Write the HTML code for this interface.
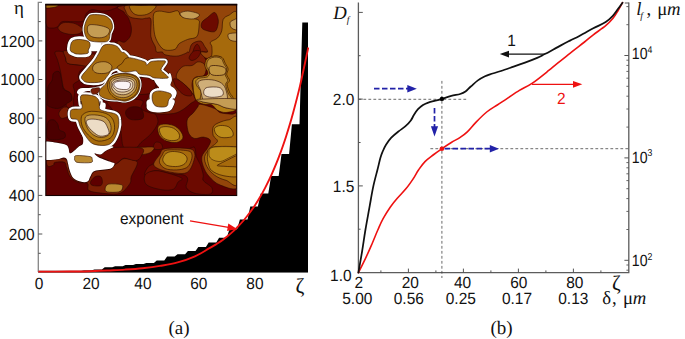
<!DOCTYPE html>
<html><head><meta charset="utf-8"><title>figure</title>
<style>html,body{margin:0;padding:0;background:#fff}svg{display:block}text{text-rendering:geometricPrecision}</style></head>
<body><svg width="685" height="339" viewBox="0 0 685 339">
<rect width="685" height="339" fill="#fff"/>
<path d="M38.5,272.3 L38.5,272.3 L38.5,272.0 L39.5,272.0 L42.3,271.9 L49.9,271.9 L52.7,271.7 L60.3,271.7 L63.1,271.4 L70.7,271.4 L73.5,271.0 L81.1,271.0 L83.9,270.5 L91.5,270.5 L94.3,269.6 L101.9,269.6 L104.7,267.3 L112.3,267.3 L115.1,266.2 L122.7,266.2 L125.5,265.0 L133.1,265.0 L135.9,264.1 L143.5,264.1 L146.3,262.9 L153.9,262.9 L156.7,260.6 L164.3,260.6 L167.1,256.6 L174.7,256.6 L177.5,254.2 L185.1,254.2 L187.9,251.0 L195.5,251.0 L198.3,247.0 L205.9,247.0 L208.7,242.4 L216.3,242.4 L219.1,237.8 L226.7,237.8 L229.5,229.3 L237.1,229.3 L239.9,219.6 L247.5,219.6 L250.3,206.5 L257.9,206.5 L260.7,193.5 L268.3,193.5 L271.1,176.1 L278.7,176.1 L281.5,154.0 L289.1,154.0 L291.9,124.3 L299.5,124.3 L302.3,22.6 L308.0,22.6 L308.0,272.3 Z" fill="#000"/>
<rect x="38" y="270.8" width="270" height="1.6" fill="#000"/>
<clipPath id="ic"><rect x="45.8" y="4.5" width="190.89999999999998" height="191.0"/></clipPath>
<g clip-path="url(#ic)" stroke-linejoin="round">
<rect x="45.8" y="4.5" width="190.89999999999998" height="191.0" fill="#5e0000"/>
<path d="M126.4,5.4 C107.6,6.6 123.9,10.4 124.3,12.5 C124.6,14.6 127.4,15.6 128.5,18.2 C129.7,20.8 131.1,25.0 131.4,28.1 C131.6,31.1 131.1,34.2 130.0,36.6 C128.8,38.9 126.2,41.5 124.3,42.2 C122.4,42.9 120.0,40.1 118.6,40.8 C117.2,41.5 115.3,44.6 115.8,46.5 C116.3,48.3 120.0,50.1 121.5,52.0 C122.9,53.9 124.3,55.3 124.3,57.7 C124.3,60.0 121.5,64.0 121.5,66.2 C121.5,68.3 121.9,69.9 124.3,70.4 C126.7,70.9 132.8,68.3 135.6,69.0 C138.4,69.7 139.2,73.4 141.0,74.7 C142.8,76.0 144.3,75.6 146.7,76.8 C149.0,78.0 153.5,79.7 155.2,81.7 C156.8,83.7 157.3,86.7 156.6,88.8 C155.9,90.9 152.6,92.6 150.9,94.5 C149.3,96.3 147.4,97.7 146.7,100.0 C146.0,102.3 145.2,106.3 146.7,108.5 C148.1,110.7 150.7,112.6 155.2,113.5 C159.6,114.3 168.8,114.2 173.6,113.5 C178.3,112.7 180.6,110.9 183.5,109.2 C186.3,107.6 188.6,105.1 190.6,103.5 C192.6,102.0 195.0,101.5 195.5,100.0 C196.0,98.5 193.8,97.8 193.7,94.5 C193.6,91.2 193.4,83.4 194.8,80.3 C196.2,77.3 199.8,78.2 201.9,76.1 C204.0,73.9 206.8,70.2 207.5,67.6 C208.3,65.0 207.1,63.1 206.1,60.5 C205.2,57.9 201.6,53.4 201.9,52.0 C202.1,50.6 201.7,52.0 207.5,52.0 C213.4,52.0 232.1,59.8 237.0,52.0 C241.9,44.2 255.4,13.2 237.0,5.4 C218.6,-2.3 145.2,4.2 126.4,5.4 Z" fill="#7a1e04" stroke="#2a0800" stroke-width="0.6"/>
<path d="M46.4,5.4 C57.5,2.1 102.1,4.7 113.0,5.4 C123.8,6.1 113.4,8.7 111.5,9.7 C109.7,10.6 104.9,11.1 101.6,11.1 C98.3,11.1 94.3,9.2 91.7,9.7 C89.1,10.1 87.5,12.0 86.1,13.9 C84.6,15.8 85.4,19.7 83.2,21.0 C81.1,22.3 76.9,21.6 73.3,21.7 C69.8,21.8 64.6,20.9 62.0,21.7 C59.4,22.5 59.4,25.6 57.7,26.7 C56.1,27.7 54.0,28.3 52.1,28.1 C50.2,27.8 47.4,29.0 46.4,25.2 C45.5,21.5 35.3,8.7 46.4,5.4 Z" fill="#6c0a00" stroke="#2a0800" stroke-width="0.6"/>
<path d="M58.5,26.7 C59.3,25.6 60.9,23.3 63.4,22.7 C65.9,22.1 70.5,22.5 73.3,23.1 C76.2,23.8 78.9,25.5 80.4,26.7 C81.9,27.8 82.8,29.0 82.5,30.2 C82.3,31.4 81.0,33.0 79.0,33.7 C77.0,34.4 73.3,34.7 70.5,34.4 C67.7,34.2 64.0,33.2 62.0,32.3 C60.0,31.4 59.0,30.1 58.5,29.2 C57.9,28.3 57.6,27.7 58.5,26.7 Z" fill="#7a1e04" stroke="#2a0800" stroke-width="0.6"/>
<path d="M44.3,4.0 C46.5,3.4 55.7,3.5 57.7,4.0 C59.7,4.5 57.7,6.2 56.3,6.8 C54.9,7.5 51.3,7.8 49.2,8.0 C47.2,8.1 45.1,8.2 44.3,7.5 C43.5,6.9 42.1,4.6 44.3,4.0 Z" fill="#a66a0c" stroke="#2a0800" stroke-width="0.6"/>
<path d="M47.8,100.0 C47.8,97.0 47.1,90.7 47.8,87.4 C48.5,84.1 51.1,82.7 52.1,80.3 C53.0,78.0 52.3,74.7 53.5,73.2 C54.7,71.8 57.7,70.6 59.2,71.8 C60.6,73.0 61.3,77.5 62.0,80.3 C62.7,83.2 62.0,86.7 63.4,88.8 C64.8,90.9 69.1,91.2 70.5,93.1 C71.9,94.9 72.6,98.1 71.9,100.0 C71.2,101.9 68.6,102.8 66.2,104.2 C63.9,105.7 60.8,108.3 57.7,108.5 C54.7,108.7 49.5,107.1 47.8,105.7 C46.2,104.2 47.8,103.0 47.8,100.0 Z" fill="#4c0000" stroke="#2a0800" stroke-width="0.6"/>
<path d="M63.4,52.0 C65.2,52.9 64.8,55.8 65.5,57.7 C66.2,59.6 65.4,62.1 67.7,63.3 C69.9,64.6 75.9,64.6 79.0,65.0 C82.1,65.5 85.8,65.3 86.1,66.2 C86.3,67.1 81.7,68.8 80.4,70.4 C79.1,72.1 78.5,74.4 78.3,76.1 C78.0,77.7 79.8,78.9 79.0,80.3 C78.2,81.7 74.0,82.6 73.3,84.6 C72.6,86.6 74.7,89.8 74.7,92.4 C74.7,94.9 73.6,97.8 73.3,100.0 C73.1,102.2 74.0,104.2 73.3,105.7 C72.6,107.1 70.3,108.7 69.1,108.5 C67.9,108.3 65.8,105.7 66.2,104.2 C66.7,102.8 71.2,101.9 71.9,100.0 C72.6,98.1 71.8,94.9 70.5,93.1 C69.2,91.2 65.5,90.9 64.1,88.8 C62.7,86.7 62.6,83.2 62.0,80.3 C61.4,77.5 61.3,75.1 60.6,71.8 C59.9,68.5 58.7,63.8 57.7,60.5 C56.8,57.2 54.0,53.4 54.9,52.0 C55.9,50.6 61.6,51.1 63.4,52.0 Z" fill="#6c0a00" stroke="#2a0800" stroke-width="0.6"/>
<path d="M63.4,51.3 C62.9,52.4 64.8,55.7 65.5,57.7 C66.2,59.7 65.4,62.1 67.7,63.3 C69.9,64.6 75.7,64.6 79.0,65.0 C82.3,65.5 85.2,66.4 87.5,66.2 C89.7,65.9 91.2,64.7 92.4,63.3 C93.7,61.9 94.7,59.2 94.8,57.7 C95.0,56.1 97.0,54.6 93.4,54.1 C89.8,53.7 77.4,55.3 73.3,54.8 C69.2,54.4 70.4,51.9 68.8,51.3 C67.1,50.7 63.9,50.2 63.4,51.3 Z" fill="#7a1e04" stroke="#2a0800" stroke-width="0.6"/>
<path d="M59.2,112.0 C59.9,110.7 61.8,108.0 63.4,107.4 C65.1,106.8 68.2,107.1 69.1,108.5 C70.0,109.9 70.0,113.9 68.8,115.6 C67.6,117.2 63.6,118.4 62.0,118.4 C60.4,118.4 59.6,116.6 59.2,115.6 C58.7,114.5 58.5,113.4 59.2,112.0 Z" fill="#7a1e04" stroke="#2a0800" stroke-width="0.6"/>
<path d="M47.8,122.7 C48.8,119.5 51.8,119.6 53.5,119.8 C55.1,120.1 56.8,122.4 57.7,124.1 C58.7,125.7 58.0,128.3 59.2,129.7 C60.3,131.2 64.1,131.4 64.8,132.8 C65.5,134.3 66.2,137.6 63.4,138.5 C60.6,139.5 50.4,141.2 47.8,138.5 C45.2,135.9 46.9,125.8 47.8,122.7 Z" fill="#4c0000" stroke="#2a0800" stroke-width="0.6"/>
<path d="M108.7,100.0 C113.6,98.6 135.6,98.6 141.0,100.0 C146.4,101.4 139.6,106.4 141.0,108.5 C142.4,110.6 147.1,111.8 149.5,112.7 C151.9,113.7 153.7,112.7 155.2,114.2 C156.6,115.6 158.0,118.9 158.0,121.2 C158.0,123.6 156.6,126.0 155.2,128.3 C153.7,130.7 151.9,133.0 149.5,135.4 C147.1,137.8 143.3,140.4 141.0,142.5 C138.7,144.6 138.4,147.1 135.6,148.0 C132.8,148.9 126.7,149.9 124.3,148.0 C121.9,146.1 122.2,141.0 121.5,136.8 C120.8,132.6 121.0,126.5 120.0,122.7 C119.1,118.8 117.2,115.8 115.8,113.5 C114.4,111.1 112.7,110.7 111.5,108.5 C110.4,106.3 103.8,101.4 108.7,100.0 Z" fill="#6c0a00" stroke="#2a0800" stroke-width="0.6"/>
<path d="M125.7,111.6 C126.2,110.0 127.8,108.1 130.0,107.4 C132.1,106.6 136.3,106.4 138.5,107.1 C140.6,107.7 142.0,109.4 142.7,111.3 C143.4,113.2 144.4,117.0 142.7,118.4 C141.0,119.8 135.4,120.1 132.8,119.8 C130.2,119.6 128.3,118.4 127.1,117.0 C125.9,115.6 125.2,113.2 125.7,111.6 Z" fill="#4c0000" stroke="#2a0800" stroke-width="0.6"/>
<path d="M151.6,5.4 C170.1,5.4 222.8,-2.9 237.0,5.4 C251.2,13.8 238.8,47.0 237.0,55.5 C235.2,64.1 229.4,56.5 226.0,56.5 C222.5,56.5 219.1,55.2 216.0,55.5 C213.0,55.8 209.7,58.3 207.5,58.4 C205.4,58.5 204.5,57.3 203.3,56.2 C202.1,55.2 199.8,52.7 200.5,52.0 C201.2,51.3 206.8,52.9 207.5,52.0 C208.3,51.1 205.9,48.3 204.7,46.5 C203.5,44.7 202.6,41.5 200.5,41.1 C198.3,40.7 193.9,42.1 192.0,43.9 C190.1,45.7 189.8,50.7 189.1,52.0 C188.4,53.3 188.4,51.7 187.7,52.0 C187.0,52.3 186.8,53.0 184.9,53.7 C183.0,54.4 179.7,56.1 176.4,56.2 C173.1,56.4 167.4,55.5 165.1,54.8 C162.7,54.1 163.7,52.5 162.2,52.0 C160.8,51.5 157.8,52.9 156.6,52.0 C155.4,51.1 156.1,49.1 155.2,46.5 C154.2,43.9 151.6,41.1 150.9,36.6 C150.2,32.1 151.6,22.6 150.9,19.6 C150.2,16.5 148.3,18.3 146.7,18.2 C145.0,18.0 143.8,19.1 141.0,18.9 C138.2,18.7 132.5,18.3 130.0,17.0 C127.4,15.7 126.3,13.0 125.7,11.1 C125.1,9.1 122.1,6.4 126.4,5.4 C130.7,4.5 133.2,5.4 151.6,5.4 Z" fill="#93450a" stroke="#2a0800" stroke-width="0.6"/>
<path d="M130.0,5.4 C131.6,4.5 136.8,5.4 141.0,5.4 C145.2,5.4 153.0,4.7 155.2,5.4 C157.3,6.1 154.9,8.2 153.7,9.7 C152.6,11.1 150.2,13.0 148.1,13.9 C146.0,14.9 143.1,15.2 141.0,15.3 C138.9,15.4 137.2,15.3 135.6,14.6 C134.0,13.9 132.3,12.6 131.4,11.1 C130.4,9.5 128.4,6.4 130.0,5.4 Z" fill="#a66a0c" stroke="#2a0800" stroke-width="0.6"/>
<path d="M153.7,13.9 C154.7,11.3 156.8,11.3 159.4,11.1 C162.0,10.8 166.3,12.5 169.3,12.5 C172.4,12.4 175.7,10.1 177.8,10.8 C179.9,11.5 178.8,15.3 182.1,16.7 C185.4,18.2 194.8,18.2 197.6,19.6 C200.5,21.0 199.2,22.4 199.1,25.2 C198.9,28.1 198.8,34.2 196.9,36.6 C195.0,38.9 190.7,38.2 187.7,39.4 C184.8,40.6 181.4,42.0 179.2,43.6 C177.1,45.3 177.3,48.2 175.0,49.3 C172.6,50.4 167.7,50.7 165.1,50.0 C162.5,49.3 161.1,47.3 159.4,45.1 C157.8,42.8 156.1,39.6 155.2,36.6 C154.2,33.5 154.0,30.4 153.7,26.7 C153.5,22.9 152.8,16.5 153.7,13.9 Z" fill="#a66a0c" stroke="#2a0800" stroke-width="0.6"/>
<path d="M180.6,12.8 C181.8,12.0 184.9,11.0 187.7,11.1 C190.6,11.2 195.7,12.5 197.6,13.3 C199.5,14.2 199.8,15.1 199.1,16.0 C198.3,17.0 195.7,18.5 193.4,18.9 C191.0,19.2 187.0,18.7 184.9,18.2 C182.8,17.6 181.6,16.5 180.9,15.6 C180.2,14.7 179.5,13.5 180.6,12.8 Z" fill="#c49c54" stroke="#2a0800" stroke-width="0.6"/>
<path d="M201.9,22.4 C202.8,20.6 205.4,19.1 207.5,17.5 C209.7,15.8 212.9,12.1 214.6,12.5 C216.4,12.8 217.7,17.2 218.2,19.6 C218.6,21.9 218.1,24.6 217.5,26.7 C216.9,28.7 216.3,30.9 214.6,31.6 C213.0,32.3 209.7,31.5 207.5,30.9 C205.4,30.3 202.8,29.5 201.9,28.1 C200.9,26.7 200.9,24.2 201.9,22.4 Z" fill="#6c0a00" stroke="#2a0800" stroke-width="0.6"/>
<path d="M193.4,52.8 C192.4,51.8 194.1,47.9 194.8,46.5 C195.5,45.1 196.8,44.1 197.6,44.4 C198.5,44.6 199.3,46.5 199.8,47.9 C200.2,49.3 201.5,52.0 200.5,52.8 C199.4,53.7 194.3,53.9 193.4,52.8 Z" fill="#6c0a00" stroke="#2a0800" stroke-width="0.6"/>
<path d="M223.1,19.6 C224.3,17.0 226.5,16.3 228.8,15.3 C231.1,14.4 235.6,7.8 237.0,13.9 C238.4,20.0 237.0,37.7 237.0,52.0 C237.0,66.3 237.0,92.0 237.0,100.0 C237.0,108.0 237.0,98.6 237.0,100.0 C237.0,101.4 237.9,108.5 237.0,108.5 C236.1,108.5 232.5,101.9 231.6,100.0 C230.7,98.1 232.1,98.5 231.6,97.3 C231.1,96.2 229.7,95.2 228.8,93.1 C227.8,90.9 226.0,86.7 226.0,84.6 C226.0,82.4 228.8,82.0 228.8,80.3 C228.8,78.7 226.2,76.5 226.0,74.7 C225.7,72.8 227.6,70.9 227.4,69.0 C227.1,67.1 225.5,65.2 224.5,63.3 C223.6,61.4 223.4,58.8 221.7,57.7 C220.1,56.5 216.8,56.0 214.6,56.2 C212.5,56.5 209.4,59.3 209.0,59.1 C208.5,58.8 211.3,56.9 211.8,54.8 C212.3,52.7 212.0,48.6 211.8,46.5 C211.6,44.4 209.4,43.6 210.4,42.2 C211.3,40.8 215.6,39.9 217.5,38.0 C219.3,36.1 220.8,34.0 221.7,30.9 C222.7,27.8 221.9,22.2 223.1,19.6 Z" fill="#a66a0c" stroke="#2a0800" stroke-width="0.6"/>
<path d="M230.2,22.4 C230.7,21.0 233.0,20.2 234.5,19.6 C235.9,19.0 238.0,17.2 238.7,18.9 C239.4,20.5 239.9,28.0 238.7,29.5 C237.5,31.0 233.0,29.3 231.6,28.1 C230.2,26.9 229.7,23.8 230.2,22.4 Z" fill="#c49c54" stroke="#2a0800" stroke-width="0.6"/>
<path d="M228.1,34.4 C228.8,33.3 232.7,33.1 234.5,33.0 C236.2,32.9 238.0,32.4 238.7,33.7 C239.4,35.0 240.1,39.8 238.7,40.8 C237.3,41.9 232.0,41.2 230.2,40.1 C228.4,39.0 227.4,35.6 228.1,34.4 Z" fill="#c49c54" stroke="#2a0800" stroke-width="0.6"/>
<path d="M189.1,57.7 C189.4,56.1 191.5,52.4 193.4,51.3 C195.3,50.2 199.8,50.2 200.5,51.3 C201.2,52.4 199.1,56.1 197.6,57.7 C196.2,59.2 193.4,60.5 192.0,60.5 C190.6,60.5 188.9,59.2 189.1,57.7 Z" fill="#6c0a00" stroke="#2a0800" stroke-width="0.6"/>
<path d="M177.8,71.8 C179.0,69.9 181.1,67.2 183.5,66.2 C185.8,65.1 189.6,66.2 192.0,65.5 C194.3,64.7 195.7,62.3 197.6,61.9 C199.5,61.6 201.9,62.1 203.3,63.3 C204.7,64.5 206.1,66.9 206.1,69.0 C206.1,71.1 205.2,74.7 203.3,76.1 C201.4,77.5 196.7,76.1 194.8,77.5 C192.9,78.9 192.2,81.7 192.0,84.6 C191.8,87.4 194.4,94.0 193.7,94.5 C193.0,94.9 189.9,89.5 187.7,87.4 C185.6,85.3 182.5,83.4 180.6,81.7 C178.8,80.1 176.9,79.1 176.4,77.5 C175.9,75.8 176.6,73.7 177.8,71.8 Z" fill="#93450a" stroke="#2a0800" stroke-width="0.6"/>
<path d="M173.6,78.9 C174.4,78.4 176.9,78.9 179.2,80.3 C181.6,81.7 185.6,85.3 187.7,87.4 C189.8,89.5 191.5,91.6 192.0,93.1 C192.4,94.5 192.0,95.7 190.6,95.9 C189.1,96.1 185.8,95.9 183.5,94.5 C181.1,93.1 177.9,89.3 176.4,87.4 C174.9,85.5 174.7,84.6 174.3,83.2 C173.8,81.7 172.7,79.4 173.6,78.9 Z" fill="#6c0a00" stroke="#2a0800" stroke-width="0.6"/>
<path d="M141.0,77.5 C143.1,76.5 147.1,76.8 149.5,77.5 C151.9,78.2 154.2,80.1 155.2,81.7 C156.1,83.4 155.9,85.5 155.2,87.4 C154.5,89.3 153.3,91.9 150.9,93.1 C148.6,94.2 143.1,94.5 141.0,94.5 C138.9,94.5 139.1,94.9 138.5,93.1 C137.8,91.2 136.6,85.7 137.0,83.2 C137.5,80.6 138.9,78.4 141.0,77.5 Z" fill="#6c0a00" stroke="#2a0800" stroke-width="0.6"/>
<path d="M206.8,59.1 C208.4,57.4 212.1,56.2 214.6,56.0 C217.2,55.7 220.2,56.2 222.0,57.4 C223.8,58.6 224.2,61.4 225.2,63.3 C226.3,65.3 227.8,67.1 228.1,69.0 C228.3,70.9 226.4,72.8 226.7,74.7 C226.9,76.5 229.4,78.7 229.5,80.3 C229.6,82.0 227.0,82.4 227.1,84.6 C227.2,86.7 229.0,90.9 229.9,93.1 C230.9,95.2 231.6,94.7 232.8,97.3 C233.9,99.9 238.1,106.3 237.0,108.8 C235.9,111.3 229.2,112.2 226.0,112.5 C222.7,112.7 219.8,111.5 217.5,110.2 C215.1,108.9 214.2,105.9 211.8,104.8 C209.4,103.8 205.8,104.6 203.3,104.0 C200.8,103.4 198.5,102.7 196.9,101.1 C195.4,99.6 194.7,97.0 194.1,94.5 C193.5,92.0 193.2,88.5 193.1,86.0 C193.0,83.5 192.5,81.1 193.4,79.6 C194.3,78.1 196.2,77.5 198.3,76.8 C200.5,76.1 204.8,76.2 206.4,75.4 C208.0,74.5 208.1,73.4 207.8,71.8 C207.6,70.3 205.2,68.3 205.0,66.2 C204.8,64.0 205.2,60.8 206.8,59.1 Z" fill="#b27c12" stroke="#2a0800" stroke-width="0.6"/>
<path d="M208.3,59.8 C209.6,58.3 212.5,57.3 214.6,57.1 C216.8,56.9 219.5,57.3 221.0,58.4 C222.5,59.5 222.9,61.8 223.8,63.6 C224.8,65.4 226.4,67.2 226.7,69.0 C226.9,70.8 225.1,72.8 225.2,74.7 C225.4,76.5 227.6,78.7 227.7,80.3 C227.7,82.0 225.6,82.4 225.7,84.6 C225.8,86.7 227.3,90.9 228.2,93.1 C229.1,95.2 229.6,94.9 231.1,97.3 C232.5,99.8 237.8,106.0 237.0,107.8 C236.2,109.5 229.2,108.4 226.0,107.8 C222.7,107.2 220.3,105.1 217.5,104.2 C214.6,103.4 211.8,103.4 209.0,102.8 C206.1,102.2 201.8,102.6 200.5,100.7 C199.2,98.8 201.8,94.1 201.2,91.6 C200.6,89.2 197.8,87.8 196.9,86.0 C196.1,84.2 195.5,82.3 195.9,81.0 C196.3,79.7 197.4,78.9 199.3,78.2 C201.3,77.5 205.8,77.8 207.5,76.8 C209.2,75.7 209.7,73.6 209.5,71.8 C209.4,70.1 206.9,68.2 206.7,66.2 C206.5,64.2 206.9,61.3 208.3,59.8 Z" fill="#ba8c38" stroke="#2a0800" stroke-width="0.6"/>
<path d="M209.2,67.6 C209.8,66.3 210.9,65.6 213.2,65.5 C215.5,65.3 221.0,66.0 223.1,66.9 C225.2,67.7 225.8,69.1 226.0,70.4 C226.1,71.7 225.7,73.8 223.8,74.7 C221.9,75.5 216.9,75.6 214.6,75.4 C212.3,75.1 210.9,74.5 210.0,73.2 C209.1,71.9 208.7,68.9 209.2,67.6 Z" fill="#c09440" stroke="#2a0800" stroke-width="0.7"/>
<path d="M197.9,82.9 C198.4,81.1 200.5,80.2 203.3,79.8 C206.1,79.3 211.3,79.5 214.6,80.3 C217.9,81.1 221.1,82.4 223.1,84.6 C225.2,86.7 226.1,90.5 226.8,93.1 C227.5,95.6 227.5,98.4 227.4,100.0 C227.2,101.6 227.6,102.6 226.0,102.8 C224.3,103.1 220.3,101.8 217.5,101.4 C214.6,101.1 211.3,100.9 209.0,100.7 C206.6,100.5 204.7,101.7 203.3,100.0 C201.9,98.3 201.4,93.1 200.5,90.2 C199.6,87.4 197.4,84.6 197.9,82.9 Z" fill="#cfae78" stroke="#2a0800" stroke-width="0.6"/>
<path d="M204.0,90.5 C204.5,89.2 205.1,87.9 207.5,87.4 C210.0,86.9 216.3,86.7 218.9,87.4 C221.5,88.1 222.7,90.2 223.1,91.6 C223.6,93.1 223.6,94.9 221.7,95.9 C219.8,96.8 214.6,97.4 211.8,97.3 C209.0,97.2 206.0,96.3 204.7,95.2 C203.4,94.1 203.5,91.8 204.0,90.5 Z" fill="#ecdcc6" stroke="#2a0800" stroke-width="0.6"/>
<path d="M187.7,118.4 C188.8,116.3 191.7,114.6 193.4,112.7 C195.0,110.9 196.5,108.5 197.6,107.1 C198.8,105.7 197.6,104.0 200.5,104.2 C203.3,104.5 211.3,107.1 214.6,108.5 C217.9,109.9 217.5,111.8 220.3,112.7 C223.1,113.7 228.6,113.7 231.6,114.2 C234.7,114.6 237.5,109.9 238.7,115.6 C239.9,121.2 238.7,136.2 238.7,148.0 C238.7,159.8 241.8,180.0 238.7,186.2 C235.6,192.4 225.2,186.7 220.3,185.1 C215.3,183.4 211.8,179.4 209.0,176.3 C206.1,173.2 204.5,169.7 203.3,166.4 C202.1,163.1 201.2,159.6 201.9,156.5 C202.6,153.4 206.1,150.7 207.5,148.0 C209.0,145.3 211.1,142.2 210.4,140.4 C209.7,138.5 205.9,137.4 203.3,137.1 C200.7,136.8 197.2,139.0 194.8,138.5 C192.4,138.0 190.4,136.2 189.1,134.0 C187.8,131.8 187.3,128.1 187.0,125.5 C186.8,122.9 186.7,120.5 187.7,118.4 Z" fill="#93450a" stroke="#2a0800" stroke-width="0.6"/>
<path d="M158.0,126.9 C158.7,125.0 161.1,124.3 163.7,124.1 C166.3,123.8 170.7,124.3 173.6,125.5 C176.4,126.7 179.1,129.0 180.6,131.2 C182.2,133.3 183.5,136.3 182.8,138.2 C182.1,140.1 179.1,142.0 176.4,142.5 C173.7,142.9 169.3,142.2 166.5,141.1 C163.7,139.9 160.8,137.8 159.4,135.4 C158.0,133.0 157.3,128.8 158.0,126.9 Z" fill="#a66a0c" stroke="#2a0800" stroke-width="0.6"/>
<path d="M159.4,129.0 C159.9,127.3 162.7,126.7 165.1,126.6 C167.4,126.5 171.2,127.1 173.6,128.3 C175.9,129.5 178.5,132.1 179.2,134.0 C179.9,135.9 179.5,138.6 177.8,139.6 C176.2,140.7 171.9,140.8 169.3,140.4 C166.7,139.9 163.9,138.7 162.2,136.8 C160.6,134.9 158.9,130.7 159.4,129.0 Z" fill="#bc8c1a" stroke="#2a0800" stroke-width="0.6"/>
<path d="M213.2,126.9 C214.2,124.8 216.3,123.8 218.9,122.7 C221.5,121.5 225.5,120.1 228.8,119.8 C232.1,119.6 237.0,111.0 238.7,121.2 C240.4,131.5 240.8,171.4 238.7,181.3 C236.6,191.1 230.0,181.3 226.0,180.3 C221.9,179.3 217.8,177.5 214.6,175.2 C211.4,172.9 208.5,169.5 206.8,166.4 C205.2,163.3 204.1,159.6 204.7,156.5 C205.3,153.4 208.3,150.5 210.4,148.0 C212.5,145.5 217.0,143.4 217.5,141.3 C217.9,139.2 213.9,137.8 213.2,135.4 C212.5,133.0 212.3,129.0 213.2,126.9 Z" fill="#a66a0c" stroke="#2a0800" stroke-width="0.6"/>
<path d="M214.6,128.3 C215.3,126.9 217.9,125.7 220.3,125.5 C222.7,125.3 226.7,125.7 228.8,126.9 C230.9,128.1 232.6,130.9 233.0,132.6 C233.5,134.2 233.5,136.0 231.6,136.8 C229.7,137.6 224.3,138.0 221.7,137.5 C219.1,137.1 217.2,135.5 216.0,134.0 C214.9,132.4 213.9,129.7 214.6,128.3 Z" fill="#bc8c1a" stroke="#2a0800" stroke-width="0.6"/>
<path d="M207.5,155.1 C208.1,152.4 206.6,148.6 211.8,147.3 C217.0,146.0 234.2,146.2 238.7,147.3 C243.2,148.4 239.9,151.9 238.7,153.7 C237.5,155.4 234.7,156.3 231.6,157.9 C228.6,159.6 222.7,162.3 220.3,163.6 C217.9,164.9 216.5,165.2 217.5,165.7 C218.4,166.2 222.4,166.1 226.0,166.4 C229.5,166.8 236.6,166.2 238.7,167.8 C240.8,169.5 241.3,175.0 238.7,176.3 C236.1,177.6 227.6,176.6 223.1,175.6 C218.6,174.7 214.3,172.7 211.8,170.7 C209.3,168.6 209.0,166.2 208.3,163.6 C207.5,161.0 207.0,157.8 207.5,155.1 Z" fill="#b27c12" stroke="#2a0800" stroke-width="0.6"/>
<path d="M209.0,153.7 C209.2,151.7 208.3,148.4 213.2,147.3 C218.2,146.2 234.5,146.5 238.7,147.3 C242.9,148.1 240.4,150.5 238.7,152.2 C237.0,154.0 231.9,156.4 228.8,157.9 C225.7,159.4 223.1,161.2 220.3,161.5 C217.5,161.7 213.7,160.6 211.8,159.3 C209.9,158.0 208.7,155.7 209.0,153.7 Z" fill="#bc8c1a" stroke="#2a0800" stroke-width="0.5"/>
<path d="M153.7,148.8 C152.6,147.8 154.0,143.4 155.2,142.5 C156.3,141.5 159.6,142.1 160.8,143.2 C162.0,144.2 163.4,147.9 162.2,148.8 C161.1,149.8 154.9,149.9 153.7,148.8 Z" fill="#6c0a00" stroke="#2a0800" stroke-width="0.6"/>
<path d="M199.1,99.3 C205.2,98.9 232.1,97.7 238.7,99.3 C245.3,100.9 240.8,107.3 238.7,108.8 C236.6,110.2 229.5,108.6 226.0,107.9 C222.4,107.2 220.3,105.3 217.5,104.5 C214.6,103.7 211.6,103.6 209.0,103.1 C206.4,102.6 203.5,102.3 201.9,101.7 C200.2,101.1 192.9,99.7 199.1,99.3 Z" fill="#c49c54" stroke="#2a0800" stroke-width="0.6"/>
<path d="M145.2,174.9 C146.7,175.1 151.1,170.9 155.2,170.7 C159.2,170.4 164.6,172.8 169.3,173.5 C174.0,174.2 180.4,174.0 183.5,174.9 C186.5,175.8 187.3,177.0 187.7,179.2 C188.2,181.3 185.1,185.3 186.3,187.6 C187.5,190.0 190.8,192.2 194.8,193.3 C198.8,194.4 207.5,195.0 210.4,194.0 C213.2,193.1 213.0,189.9 211.8,187.6 C210.6,185.4 204.7,182.7 203.3,180.6 C201.9,178.4 203.8,177.5 203.3,174.9 C202.8,172.3 201.6,168.1 200.5,165.0 C199.3,161.9 197.2,159.3 196.2,156.5 C195.3,153.7 196.0,149.3 194.8,148.0 C193.6,146.7 196.0,146.1 189.1,148.7 C182.3,151.3 160.8,160.2 153.7,163.6 C146.7,167.0 148.1,167.4 146.7,169.2 C145.2,171.1 143.8,174.7 145.2,174.9 Z" fill="#6c0a00" stroke="#2a0800" stroke-width="0.6"/>
<path d="M145.2,174.9 C143.8,177.3 143.8,182.3 146.7,184.8 C149.5,187.3 157.8,189.1 162.2,189.8 C166.7,190.5 170.9,190.4 173.6,189.1 C176.2,187.8 176.7,183.8 178.1,182.0 C179.5,180.2 183.5,179.9 182.1,178.4 C180.6,177.0 173.8,174.8 169.3,173.5 C164.8,172.2 159.2,170.4 155.2,170.7 C151.1,170.9 146.7,172.5 145.2,174.9 Z" fill="#6c0a00" stroke="#2a0800" stroke-width="0.6"/>
<path d="M153.7,163.6 C154.2,161.5 157.5,157.6 159.4,155.1 C161.3,152.6 160.1,149.8 165.1,148.7 C170.0,147.6 184.2,147.9 189.1,148.7 C194.1,149.5 194.1,151.4 194.8,153.7 C195.5,155.9 194.3,159.3 193.4,162.2 C192.4,165.0 191.0,168.8 189.1,170.7 C187.3,172.5 185.8,173.4 182.1,173.5 C178.3,173.6 170.7,172.3 166.5,171.4 C162.2,170.4 158.7,169.1 156.6,167.8 C154.5,166.5 153.3,165.7 153.7,163.6 Z" fill="#93450a" stroke="#2a0800" stroke-width="0.6"/>
<path d="M159.4,162.2 C158.9,159.9 160.9,157.1 162.2,155.1 C163.5,153.1 162.9,150.8 167.2,150.1 C171.4,149.4 183.6,150.0 187.7,150.8 C191.9,151.7 191.5,153.2 192.0,155.1 C192.4,157.0 191.5,160.0 190.6,162.2 C189.6,164.3 188.7,166.5 186.3,167.8 C183.9,169.1 179.9,169.8 176.4,169.9 C172.9,170.1 167.9,169.8 165.1,168.5 C162.2,167.2 159.9,164.4 159.4,162.2 Z" fill="#a66a0c" stroke="#2a0800" stroke-width="0.6"/>
<path d="M162.9,158.6 C163.3,157.2 164.2,154.8 165.8,153.7 C167.3,152.5 169.4,151.7 172.2,151.5 C174.9,151.4 179.6,151.9 182.1,153.0 C184.5,154.0 186.5,156.1 187.0,157.9 C187.5,159.7 186.4,162.2 184.9,163.6 C183.4,165.0 180.6,166.1 177.8,166.4 C175.0,166.8 170.3,166.4 167.9,165.7 C165.5,165.0 164.5,163.3 163.7,162.2 C162.8,161.0 162.6,160.0 162.9,158.6 Z" fill="#bc8c1a" stroke="#2a0800" stroke-width="0.6"/>
<path d="M141.0,147.3 C144.3,147.2 152.1,146.5 153.7,147.3 C155.4,148.1 152.6,151.1 150.9,152.2 C149.3,153.4 145.5,154.1 143.8,154.4 C142.2,154.6 142.4,153.8 141.0,153.7 C139.6,153.5 136.8,154.6 135.6,153.7 C134.5,152.7 133.3,149.1 134.2,148.0 C135.1,146.9 137.7,147.4 141.0,147.3 Z" fill="#93450a" stroke="#2a0800" stroke-width="0.6"/>
<path d="M47.8,159.3 C50.7,158.1 61.5,158.5 64.8,159.0 C68.1,159.6 66.9,160.9 67.7,162.9 C68.4,164.8 68.4,168.1 69.4,170.7 C70.3,173.3 71.5,176.6 73.3,178.4 C75.2,180.3 78.0,181.4 80.4,182.0 C82.8,182.6 85.8,182.7 87.5,182.0 C89.1,181.3 89.1,179.5 90.3,177.7 C91.5,176.0 91.3,172.8 94.6,171.4 C97.9,169.9 106.8,170.3 110.1,169.2 C113.4,168.2 113.0,166.2 114.4,165.0 C115.8,163.8 117.0,163.2 118.6,162.2 C120.3,161.1 121.5,158.9 124.3,158.6 C127.1,158.4 133.5,159.7 135.6,160.7 C137.7,161.8 137.7,162.4 137.0,165.0 C136.3,167.6 132.6,173.3 131.4,176.3 C130.2,179.4 131.8,180.6 130.0,183.4 C128.1,186.2 124.5,191.7 120.0,193.3 C115.6,195.0 108.2,193.8 103.1,193.3 C97.9,192.8 91.5,192.1 88.9,190.5 C86.3,188.8 89.4,184.8 87.5,183.4 C85.6,182.0 80.5,183.4 77.6,182.3 C74.6,181.1 71.7,179.0 69.8,176.3 C67.9,173.7 67.2,168.8 66.2,166.4 C65.3,164.0 66.0,162.8 64.1,162.2 C62.2,161.5 56.7,162.0 54.9,162.4 C53.1,162.9 54.7,164.3 53.5,165.0 C52.3,165.7 48.8,167.4 47.8,166.4 C46.9,165.5 45.0,160.6 47.8,159.3 Z" fill="#7a1e04" stroke="#2a0800" stroke-width="0.6"/>
<path d="M90.3,182.7 C90.5,181.3 92.9,178.1 94.6,177.0 C96.2,176.0 98.9,175.7 100.2,176.3 C101.5,176.9 102.2,179.0 102.3,180.6 C102.5,182.1 102.5,184.7 100.9,185.5 C99.4,186.3 94.9,186.0 93.1,185.5 C91.4,185.1 90.1,184.1 90.3,182.7 Z" fill="#5e0000" stroke="#2a0800" stroke-width="0.6"/>
<path d="M105.2,188.4 C105.4,187.1 106.0,184.7 108.7,184.1 C111.4,183.5 119.2,184.0 121.5,184.8 C123.7,185.6 122.6,187.9 122.2,189.1 C121.7,190.2 121.1,191.4 118.6,191.9 C116.2,192.4 109.5,192.5 107.3,191.9 C105.1,191.3 104.9,189.7 105.2,188.4 Z" fill="#ba8a30" stroke="#2a0800" stroke-width="0.6"/>
<path d="M107.3,148.0 C113.4,147.3 135.4,146.6 141.0,148.0 C146.6,149.4 141.9,154.4 141.0,156.5 C140.1,158.6 138.4,160.5 135.6,160.7 C132.8,161.0 127.1,158.0 124.3,158.2 C121.5,158.4 120.3,160.9 118.6,161.9 C117.0,162.9 116.3,164.6 114.4,164.3 C112.5,164.0 110.1,161.3 107.3,160.0 C104.5,158.7 99.5,157.6 97.4,156.5 C95.3,155.4 93.4,154.4 94.6,153.7 C95.7,153.0 102.3,153.2 104.5,152.2 C106.6,151.3 101.2,148.7 107.3,148.0 Z" fill="#6c0a00" stroke="#2a0800" stroke-width="0.6"/>
<path d="M84.2,30.1 C84.0,27.6 84.7,25.1 85.4,23.0 C86.1,20.8 87.2,18.5 88.3,17.1 C89.4,15.7 89.3,15.0 91.9,14.7 C94.4,14.4 100.7,14.6 103.7,15.3 C106.6,16.0 108.2,17.6 109.6,18.8 C110.9,20.1 111.4,21.5 111.9,23.0 C112.4,24.5 112.8,25.9 112.5,27.7 C112.2,29.5 110.7,31.6 110.1,33.6 C109.6,35.6 109.9,38.1 109.0,39.5 C108.1,40.9 107.7,41.6 104.8,41.9 C102.0,42.2 94.9,42.0 91.9,41.3 C88.8,40.6 87.8,39.6 86.5,37.7 C85.3,35.9 84.4,32.5 84.2,30.1 Z" fill="none" stroke="#2a0800" stroke-width="4.4"/>
<path d="M70.6,45.4 C71.0,43.7 71.4,41.7 73.0,40.7 C74.6,39.7 77.5,39.4 80.1,39.5 C82.6,39.6 86.6,40.3 88.3,41.3 C90.0,42.3 90.1,43.9 90.1,45.4 C90.1,46.9 88.8,48.7 88.3,50.0 C87.9,51.3 89.3,52.7 87.5,53.4 C85.7,54.1 79.9,54.2 77.6,54.1 C75.2,54.0 74.5,53.3 73.3,52.7 C72.1,52.1 70.9,51.9 70.5,50.7 C70.0,49.5 70.2,47.1 70.6,45.4 Z" fill="none" stroke="#2a0800" stroke-width="7.4"/>
<path d="M103.1,45.8 C104.9,44.3 107.8,44.2 110.1,44.4 C112.5,44.5 115.3,45.2 117.2,46.5 C119.1,47.8 120.3,51.0 121.5,52.0 C122.6,53.0 123.1,51.8 124.3,52.7 C125.5,53.7 128.3,55.9 128.5,57.7 C128.8,59.4 127.4,61.7 125.7,63.3 C124.1,65.0 121.0,66.4 118.6,67.6 C116.3,68.8 113.4,69.0 111.5,70.4 C109.7,71.8 109.0,74.2 107.3,76.1 C105.6,78.0 104.9,80.7 101.6,81.7 C98.3,82.8 90.7,82.8 87.5,82.4 C84.3,82.1 83.5,80.7 82.5,79.6 C81.6,78.5 81.0,77.8 81.8,76.1 C82.6,74.3 85.4,71.6 87.5,69.0 C89.6,66.4 92.7,63.1 94.6,60.5 C96.4,57.9 97.4,55.9 98.8,53.4 C100.2,51.0 101.2,47.3 103.1,45.8 Z" fill="none" stroke="#2a0800" stroke-width="5.8"/>
<path d="M117.1,67.4 C117.1,66.1 120.0,65.2 121.8,63.6 C123.6,62.0 124.0,58.1 127.7,57.7 C131.4,57.3 141.0,60.3 144.2,61.5 C147.4,62.7 145.6,65.0 146.8,65.0 C148.0,65.0 148.8,62.2 151.3,61.5 C153.8,60.8 159.6,60.7 161.9,60.8 C164.3,60.8 165.6,60.5 165.5,61.9 C165.3,63.4 161.0,67.5 161.0,69.5 C161.0,71.5 164.3,72.8 165.5,74.2 C166.6,75.6 169.6,77.4 167.8,78.0 C166.0,78.6 158.0,78.4 154.8,78.0 C151.7,77.6 151.5,76.0 148.9,75.4 C146.4,74.8 141.7,75.0 139.5,74.2 C137.3,73.5 137.9,71.3 136.0,70.9 C134.0,70.6 130.1,72.0 127.7,72.1 C125.3,72.2 123.6,72.2 121.8,71.4 C120.0,70.6 117.1,68.7 117.1,67.4 Z" fill="none" stroke="#2a0800" stroke-width="5.6"/>
<path d="M153.0,93.1 C154.2,91.6 156.7,90.9 159.4,90.9 C162.1,90.9 167.3,92.2 169.3,93.1 C171.3,93.9 171.6,94.7 171.4,95.9 C171.3,97.1 169.3,98.4 168.6,100.0 C167.9,101.6 168.3,104.5 167.2,105.7 C166.1,106.8 164.2,107.1 162.2,107.1 C160.2,107.1 156.8,106.8 155.2,105.7 C153.5,104.5 152.7,102.1 152.3,100.0 C152.0,97.9 151.9,94.6 153.0,93.1 Z" fill="none" stroke="#2a0800" stroke-width="6.2"/>
<path d="M80.6,96.5 C81.1,95.0 82.0,94.9 84.2,94.8 C86.3,94.7 91.2,95.2 93.6,96.0 C96.0,96.7 97.3,97.9 98.3,99.5 C99.3,101.1 99.2,105.1 99.5,105.4 C99.8,105.7 100.2,100.9 100.2,101.4 C100.2,101.9 98.8,106.8 99.5,108.5 C100.2,110.1 101.8,110.4 104.5,111.3 C107.2,112.3 113.4,112.7 115.8,114.2 C118.2,115.6 118.3,117.2 118.6,119.8 C119.0,122.4 118.9,126.2 117.9,129.7 C117.0,133.3 115.0,138.5 113.0,141.1 C111.0,143.7 109.2,144.8 105.9,145.3 C102.6,145.8 96.4,145.3 93.1,143.9 C89.8,142.5 88.2,139.6 86.1,136.8 C83.9,134.0 81.8,129.7 80.4,126.9 C79.0,124.1 79.1,121.2 77.6,119.8 C76.0,118.4 72.4,119.8 71.2,118.4 C70.0,117.0 70.1,112.9 70.5,111.3 C70.8,109.8 71.4,109.7 73.3,109.2 C75.2,108.7 80.5,109.8 81.8,108.5 C83.1,107.2 81.2,102.1 81.1,101.4 C81.0,100.7 81.3,105.0 81.2,104.2 C81.1,103.4 80.1,98.1 80.6,96.5 Z" fill="none" stroke="#2a0800" stroke-width="6.2"/>
<path d="M100.1,89.5 C101.1,87.7 103.7,86.2 105.4,84.2 C107.1,82.1 107.8,78.8 110.1,77.1 C112.5,75.3 116.0,74.0 119.6,73.5 C123.1,73.0 128.2,73.3 131.4,74.1 C134.5,74.9 137.0,76.2 138.4,78.3 C139.9,80.3 140.2,83.7 139.9,86.5 C139.5,89.4 138.3,93.0 136.1,95.4 C133.9,97.8 129.8,100.1 126.6,100.9 C123.5,101.7 120.1,100.3 117.2,100.1 C114.2,99.9 111.3,99.9 108.9,99.5 C106.6,99.1 104.6,98.5 103.0,97.7 C101.5,96.9 100.0,96.2 99.5,94.8 C99.0,93.4 99.1,91.2 100.1,89.5 Z" fill="none" stroke="#2a0800" stroke-width="4.0"/>
<path d="M44.0,142.7 C46.1,140.0 53.1,142.3 56.8,142.7 C60.5,143.1 64.2,144.0 66.2,145.0 C68.2,146.0 68.0,147.2 68.6,148.6 C69.2,150.0 68.8,153.0 69.8,153.3 C70.8,153.6 72.9,151.6 74.5,150.4 C76.1,149.2 77.8,147.3 79.2,146.2 C80.6,145.1 82.2,145.3 82.8,143.9 C83.4,142.5 83.3,140.2 83.0,138.0 C82.7,135.8 80.2,131.7 81.0,131.0 C81.8,130.3 85.5,131.5 88.0,134.0 C90.5,136.5 92.7,144.0 96.0,146.0 C99.3,148.0 105.1,145.8 108.0,146.0 C110.9,146.2 113.8,146.3 113.5,147.0 C113.2,147.7 108.5,149.2 106.3,150.4 C104.1,151.7 102.4,154.0 100.4,154.5 C98.5,155.0 95.0,152.9 94.6,153.3 C94.2,153.7 96.1,155.7 98.1,156.9 C100.1,158.1 103.9,159.4 106.4,160.4 C109.0,161.4 112.1,162.2 113.4,162.8 C114.7,163.5 114.9,163.3 114.4,164.3 C113.9,165.3 113.5,167.7 110.2,168.8 C106.9,169.9 97.9,169.6 94.6,170.9 C91.3,172.2 91.5,174.8 90.3,176.6 C89.1,178.4 89.2,180.8 87.5,181.6 C85.8,182.4 82.8,182.2 80.4,181.6 C78.0,181.0 75.1,179.8 73.3,178.0 C71.5,176.2 70.7,173.1 69.8,170.7 C68.9,168.3 68.5,165.4 68.0,163.5 C67.5,161.6 67.5,160.2 66.8,159.2 C66.1,158.2 65.6,157.4 63.9,157.4 C62.2,157.4 60.1,159.0 56.8,159.2 C53.5,159.4 46.1,161.3 44.0,158.6 C41.9,155.8 41.9,145.3 44.0,142.7 Z" fill="none" stroke="#2a0800" stroke-width="1.0"/>
<path d="M156.6,77.5 C158.8,77.1 165.1,78.2 167.2,77.5 C169.3,76.8 168.7,73.7 169.3,73.2 C170.0,72.8 170.6,73.5 171.0,74.7 C171.4,75.8 172.0,78.5 171.9,80.3 C171.8,82.1 170.0,83.9 170.5,85.3 C170.9,86.7 173.7,87.5 174.7,88.8 C175.7,90.1 176.7,91.4 176.7,93.1 C176.6,94.7 175.3,98.3 174.4,98.7 C173.5,99.2 172.3,96.8 171.4,95.9 C170.6,94.9 171.3,93.9 169.3,93.1 C167.3,92.2 161.8,91.6 159.4,90.9 C157.0,90.3 155.2,89.6 155.2,89.1 C155.1,88.6 158.9,88.9 159.1,88.1 C159.4,87.4 157.4,86.0 156.6,84.6 C155.7,83.2 154.0,80.8 154.0,79.6 C154.0,78.4 154.4,77.8 156.6,77.5 Z" fill="none" stroke="#2a0800" stroke-width="1.0"/>
<path d="M77.1,91.5 C77.6,90.6 78.3,88.9 80.6,88.3 C83.0,87.7 88.3,88.0 91.2,87.7 C94.2,87.4 96.3,86.9 98.3,86.5 C100.3,86.1 102.6,84.9 103.3,85.3 C103.9,85.7 102.9,87.5 102.1,88.9 C101.3,90.3 100.4,92.7 98.6,93.6 C96.7,94.5 92.7,94.7 91.2,94.3 C89.8,93.9 91.2,91.6 90.1,91.2 C88.9,90.8 85.7,91.3 84.2,91.9 C82.6,92.6 81.7,94.7 80.6,95.0 C79.5,95.3 78.3,94.4 77.7,93.8 C77.1,93.2 76.6,92.4 77.1,91.5 Z" fill="none" stroke="#2a0800" stroke-width="1.0"/>
<path d="M98.1,98.3 C98.1,96.9 98.3,100.8 99.5,101.6 C100.7,102.5 104.6,102.1 105.4,103.5 C106.2,104.9 105.5,108.9 104.5,110.0 C103.4,111.1 100.3,111.9 99.3,110.0 C98.2,108.1 98.0,99.7 98.1,98.3 Z" fill="none" stroke="#2a0800" stroke-width="1.0"/>
<path d="M122.9,70.4 C124.9,69.9 132.9,69.2 135.6,69.7 C138.3,70.2 138.7,72.1 139.2,73.2 C139.6,74.4 140.0,76.8 138.5,76.8 C136.9,76.8 132.4,73.9 130.0,73.2 C127.5,72.5 124.8,73.0 123.6,72.5 C122.4,72.1 120.9,70.9 122.9,70.4 Z" fill="none" stroke="#2a0800" stroke-width="1.0"/>
<path d="M90.1,50.0 C89.5,48.7 89.9,44.5 91.6,43.3 C93.3,42.1 98.8,41.7 100.4,42.8 C101.9,43.9 101.9,48.6 101.1,50.0 C100.2,51.4 97.2,51.3 95.4,51.3 C93.6,51.3 90.7,51.3 90.1,50.0 Z" fill="none" stroke="#2a0800" stroke-width="1.0"/>
<path d="M122.4,70.7 C124.2,70.2 130.9,68.3 133.6,68.9 C136.3,69.5 137.1,72.9 138.3,74.2 C139.5,75.5 141.1,76.6 140.9,76.8 C140.7,77.0 138.8,76.1 137.1,75.4 C135.5,74.7 133.6,73.2 131.2,72.6 C128.9,72.0 124.5,72.2 123.0,71.9 C121.5,71.5 120.6,71.2 122.4,70.7 Z" fill="none" stroke="#2a0800" stroke-width="1.0"/>
<path d="M146.7,105.7 C146.9,103.9 145.1,100.4 149.5,99.3 C153.9,98.2 169.0,98.0 172.9,99.3 C176.8,100.6 173.7,105.0 172.9,107.1 C172.0,109.1 170.9,110.8 167.9,111.6 C165.0,112.5 158.5,112.5 155.2,112.2 C151.9,111.9 149.5,111.0 148.1,109.9 C146.7,108.8 146.4,107.4 146.7,105.7 Z" fill="none" stroke="#2a0800" stroke-width="1.0"/>
<path d="M84.2,30.1 C84.0,27.6 84.7,25.1 85.4,23.0 C86.1,20.8 87.2,18.5 88.3,17.1 C89.4,15.7 89.3,15.0 91.9,14.7 C94.4,14.4 100.7,14.6 103.7,15.3 C106.6,16.0 108.2,17.6 109.6,18.8 C110.9,20.1 111.4,21.5 111.9,23.0 C112.4,24.5 112.8,25.9 112.5,27.7 C112.2,29.5 110.7,31.6 110.1,33.6 C109.6,35.6 109.9,38.1 109.0,39.5 C108.1,40.9 107.7,41.6 104.8,41.9 C102.0,42.2 94.9,42.0 91.9,41.3 C88.8,40.6 87.8,39.6 86.5,37.7 C85.3,35.9 84.4,32.5 84.2,30.1 Z" fill="#fff" stroke="#fff" stroke-width="3.4"/>
<path d="M70.6,45.4 C71.0,43.7 71.4,41.7 73.0,40.7 C74.6,39.7 77.5,39.4 80.1,39.5 C82.6,39.6 86.6,40.3 88.3,41.3 C90.0,42.3 90.1,43.9 90.1,45.4 C90.1,46.9 88.8,48.7 88.3,50.0 C87.9,51.3 89.3,52.7 87.5,53.4 C85.7,54.1 79.9,54.2 77.6,54.1 C75.2,54.0 74.5,53.3 73.3,52.7 C72.1,52.1 70.9,51.9 70.5,50.7 C70.0,49.5 70.2,47.1 70.6,45.4 Z" fill="#fff" stroke="#fff" stroke-width="6.4"/>
<path d="M103.1,45.8 C104.9,44.3 107.8,44.2 110.1,44.4 C112.5,44.5 115.3,45.2 117.2,46.5 C119.1,47.8 120.3,51.0 121.5,52.0 C122.6,53.0 123.1,51.8 124.3,52.7 C125.5,53.7 128.3,55.9 128.5,57.7 C128.8,59.4 127.4,61.7 125.7,63.3 C124.1,65.0 121.0,66.4 118.6,67.6 C116.3,68.8 113.4,69.0 111.5,70.4 C109.7,71.8 109.0,74.2 107.3,76.1 C105.6,78.0 104.9,80.7 101.6,81.7 C98.3,82.8 90.7,82.8 87.5,82.4 C84.3,82.1 83.5,80.7 82.5,79.6 C81.6,78.5 81.0,77.8 81.8,76.1 C82.6,74.3 85.4,71.6 87.5,69.0 C89.6,66.4 92.7,63.1 94.6,60.5 C96.4,57.9 97.4,55.9 98.8,53.4 C100.2,51.0 101.2,47.3 103.1,45.8 Z" fill="#fff" stroke="#fff" stroke-width="4.8"/>
<path d="M117.1,67.4 C117.1,66.1 120.0,65.2 121.8,63.6 C123.6,62.0 124.0,58.1 127.7,57.7 C131.4,57.3 141.0,60.3 144.2,61.5 C147.4,62.7 145.6,65.0 146.8,65.0 C148.0,65.0 148.8,62.2 151.3,61.5 C153.8,60.8 159.6,60.7 161.9,60.8 C164.3,60.8 165.6,60.5 165.5,61.9 C165.3,63.4 161.0,67.5 161.0,69.5 C161.0,71.5 164.3,72.8 165.5,74.2 C166.6,75.6 169.6,77.4 167.8,78.0 C166.0,78.6 158.0,78.4 154.8,78.0 C151.7,77.6 151.5,76.0 148.9,75.4 C146.4,74.8 141.7,75.0 139.5,74.2 C137.3,73.5 137.9,71.3 136.0,70.9 C134.0,70.6 130.1,72.0 127.7,72.1 C125.3,72.2 123.6,72.2 121.8,71.4 C120.0,70.6 117.1,68.7 117.1,67.4 Z" fill="#fff" stroke="#fff" stroke-width="4.6"/>
<path d="M153.0,93.1 C154.2,91.6 156.7,90.9 159.4,90.9 C162.1,90.9 167.3,92.2 169.3,93.1 C171.3,93.9 171.6,94.7 171.4,95.9 C171.3,97.1 169.3,98.4 168.6,100.0 C167.9,101.6 168.3,104.5 167.2,105.7 C166.1,106.8 164.2,107.1 162.2,107.1 C160.2,107.1 156.8,106.8 155.2,105.7 C153.5,104.5 152.7,102.1 152.3,100.0 C152.0,97.9 151.9,94.6 153.0,93.1 Z" fill="#fff" stroke="#fff" stroke-width="5.2"/>
<path d="M80.6,96.5 C81.1,95.0 82.0,94.9 84.2,94.8 C86.3,94.7 91.2,95.2 93.6,96.0 C96.0,96.7 97.3,97.9 98.3,99.5 C99.3,101.1 99.2,105.1 99.5,105.4 C99.8,105.7 100.2,100.9 100.2,101.4 C100.2,101.9 98.8,106.8 99.5,108.5 C100.2,110.1 101.8,110.4 104.5,111.3 C107.2,112.3 113.4,112.7 115.8,114.2 C118.2,115.6 118.3,117.2 118.6,119.8 C119.0,122.4 118.9,126.2 117.9,129.7 C117.0,133.3 115.0,138.5 113.0,141.1 C111.0,143.7 109.2,144.8 105.9,145.3 C102.6,145.8 96.4,145.3 93.1,143.9 C89.8,142.5 88.2,139.6 86.1,136.8 C83.9,134.0 81.8,129.7 80.4,126.9 C79.0,124.1 79.1,121.2 77.6,119.8 C76.0,118.4 72.4,119.8 71.2,118.4 C70.0,117.0 70.1,112.9 70.5,111.3 C70.8,109.8 71.4,109.7 73.3,109.2 C75.2,108.7 80.5,109.8 81.8,108.5 C83.1,107.2 81.2,102.1 81.1,101.4 C81.0,100.7 81.3,105.0 81.2,104.2 C81.1,103.4 80.1,98.1 80.6,96.5 Z" fill="#fff" stroke="#fff" stroke-width="5.2"/>
<path d="M100.1,89.5 C101.1,87.7 103.7,86.2 105.4,84.2 C107.1,82.1 107.8,78.8 110.1,77.1 C112.5,75.3 116.0,74.0 119.6,73.5 C123.1,73.0 128.2,73.3 131.4,74.1 C134.5,74.9 137.0,76.2 138.4,78.3 C139.9,80.3 140.2,83.7 139.9,86.5 C139.5,89.4 138.3,93.0 136.1,95.4 C133.9,97.8 129.8,100.1 126.6,100.9 C123.5,101.7 120.1,100.3 117.2,100.1 C114.2,99.9 111.3,99.9 108.9,99.5 C106.6,99.1 104.6,98.5 103.0,97.7 C101.5,96.9 100.0,96.2 99.5,94.8 C99.0,93.4 99.1,91.2 100.1,89.5 Z" fill="#fff" stroke="#fff" stroke-width="3.0"/>
<path d="M44.0,142.7 C46.1,140.0 53.1,142.3 56.8,142.7 C60.5,143.1 64.2,144.0 66.2,145.0 C68.2,146.0 68.0,147.2 68.6,148.6 C69.2,150.0 68.8,153.0 69.8,153.3 C70.8,153.6 72.9,151.6 74.5,150.4 C76.1,149.2 77.8,147.3 79.2,146.2 C80.6,145.1 82.2,145.3 82.8,143.9 C83.4,142.5 83.3,140.2 83.0,138.0 C82.7,135.8 80.2,131.7 81.0,131.0 C81.8,130.3 85.5,131.5 88.0,134.0 C90.5,136.5 92.7,144.0 96.0,146.0 C99.3,148.0 105.1,145.8 108.0,146.0 C110.9,146.2 113.8,146.3 113.5,147.0 C113.2,147.7 108.5,149.2 106.3,150.4 C104.1,151.7 102.4,154.0 100.4,154.5 C98.5,155.0 95.0,152.9 94.6,153.3 C94.2,153.7 96.1,155.7 98.1,156.9 C100.1,158.1 103.9,159.4 106.4,160.4 C109.0,161.4 112.1,162.2 113.4,162.8 C114.7,163.5 114.9,163.3 114.4,164.3 C113.9,165.3 113.5,167.7 110.2,168.8 C106.9,169.9 97.9,169.6 94.6,170.9 C91.3,172.2 91.5,174.8 90.3,176.6 C89.1,178.4 89.2,180.8 87.5,181.6 C85.8,182.4 82.8,182.2 80.4,181.6 C78.0,181.0 75.1,179.8 73.3,178.0 C71.5,176.2 70.7,173.1 69.8,170.7 C68.9,168.3 68.5,165.4 68.0,163.5 C67.5,161.6 67.5,160.2 66.8,159.2 C66.1,158.2 65.6,157.4 63.9,157.4 C62.2,157.4 60.1,159.0 56.8,159.2 C53.5,159.4 46.1,161.3 44.0,158.6 C41.9,155.8 41.9,145.3 44.0,142.7 Z" fill="#fff"/>
<path d="M156.6,77.5 C158.8,77.1 165.1,78.2 167.2,77.5 C169.3,76.8 168.7,73.7 169.3,73.2 C170.0,72.8 170.6,73.5 171.0,74.7 C171.4,75.8 172.0,78.5 171.9,80.3 C171.8,82.1 170.0,83.9 170.5,85.3 C170.9,86.7 173.7,87.5 174.7,88.8 C175.7,90.1 176.7,91.4 176.7,93.1 C176.6,94.7 175.3,98.3 174.4,98.7 C173.5,99.2 172.3,96.8 171.4,95.9 C170.6,94.9 171.3,93.9 169.3,93.1 C167.3,92.2 161.8,91.6 159.4,90.9 C157.0,90.3 155.2,89.6 155.2,89.1 C155.1,88.6 158.9,88.9 159.1,88.1 C159.4,87.4 157.4,86.0 156.6,84.6 C155.7,83.2 154.0,80.8 154.0,79.6 C154.0,78.4 154.4,77.8 156.6,77.5 Z" fill="#fff"/>
<path d="M77.1,91.5 C77.6,90.6 78.3,88.9 80.6,88.3 C83.0,87.7 88.3,88.0 91.2,87.7 C94.2,87.4 96.3,86.9 98.3,86.5 C100.3,86.1 102.6,84.9 103.3,85.3 C103.9,85.7 102.9,87.5 102.1,88.9 C101.3,90.3 100.4,92.7 98.6,93.6 C96.7,94.5 92.7,94.7 91.2,94.3 C89.8,93.9 91.2,91.6 90.1,91.2 C88.9,90.8 85.7,91.3 84.2,91.9 C82.6,92.6 81.7,94.7 80.6,95.0 C79.5,95.3 78.3,94.4 77.7,93.8 C77.1,93.2 76.6,92.4 77.1,91.5 Z" fill="#fff"/>
<path d="M98.1,98.3 C98.1,96.9 98.3,100.8 99.5,101.6 C100.7,102.5 104.6,102.1 105.4,103.5 C106.2,104.9 105.5,108.9 104.5,110.0 C103.4,111.1 100.3,111.9 99.3,110.0 C98.2,108.1 98.0,99.7 98.1,98.3 Z" fill="#fff"/>
<path d="M122.9,70.4 C124.9,69.9 132.9,69.2 135.6,69.7 C138.3,70.2 138.7,72.1 139.2,73.2 C139.6,74.4 140.0,76.8 138.5,76.8 C136.9,76.8 132.4,73.9 130.0,73.2 C127.5,72.5 124.8,73.0 123.6,72.5 C122.4,72.1 120.9,70.9 122.9,70.4 Z" fill="#fff"/>
<path d="M90.1,50.0 C89.5,48.7 89.9,44.5 91.6,43.3 C93.3,42.1 98.8,41.7 100.4,42.8 C101.9,43.9 101.9,48.6 101.1,50.0 C100.2,51.4 97.2,51.3 95.4,51.3 C93.6,51.3 90.7,51.3 90.1,50.0 Z" fill="#fff"/>
<path d="M122.4,70.7 C124.2,70.2 130.9,68.3 133.6,68.9 C136.3,69.5 137.1,72.9 138.3,74.2 C139.5,75.5 141.1,76.6 140.9,76.8 C140.7,77.0 138.8,76.1 137.1,75.4 C135.5,74.7 133.6,73.2 131.2,72.6 C128.9,72.0 124.5,72.2 123.0,71.9 C121.5,71.5 120.6,71.2 122.4,70.7 Z" fill="#fff"/>
<path d="M146.7,105.7 C146.9,103.9 145.1,100.4 149.5,99.3 C153.9,98.2 169.0,98.0 172.9,99.3 C176.8,100.6 173.7,105.0 172.9,107.1 C172.0,109.1 170.9,110.8 167.9,111.6 C165.0,112.5 158.5,112.5 155.2,112.2 C151.9,111.9 149.5,111.0 148.1,109.9 C146.7,108.8 146.4,107.4 146.7,105.7 Z" fill="#fff"/>
<path d="M84.2,30.1 C84.0,27.6 84.7,25.1 85.4,23.0 C86.1,20.8 87.2,18.5 88.3,17.1 C89.4,15.7 89.3,15.0 91.9,14.7 C94.4,14.4 100.7,14.6 103.7,15.3 C106.6,16.0 108.2,17.6 109.6,18.8 C110.9,20.1 111.4,21.5 111.9,23.0 C112.4,24.5 112.8,25.9 112.5,27.7 C112.2,29.5 110.7,31.6 110.1,33.6 C109.6,35.6 109.9,38.1 109.0,39.5 C108.1,40.9 107.7,41.6 104.8,41.9 C102.0,42.2 94.9,42.0 91.9,41.3 C88.8,40.6 87.8,39.6 86.5,37.7 C85.3,35.9 84.4,32.5 84.2,30.1 Z" fill="#a66a0c" stroke="#2a0800" stroke-width="0.6"/>
<path d="M70.6,45.4 C71.0,43.7 71.4,41.7 73.0,40.7 C74.6,39.7 77.5,39.4 80.1,39.5 C82.6,39.6 86.6,40.3 88.3,41.3 C90.0,42.3 90.1,43.9 90.1,45.4 C90.1,46.9 88.8,48.7 88.3,50.0 C87.9,51.3 89.3,52.7 87.5,53.4 C85.7,54.1 79.9,54.2 77.6,54.1 C75.2,54.0 74.5,53.3 73.3,52.7 C72.1,52.1 70.9,51.9 70.5,50.7 C70.0,49.5 70.2,47.1 70.6,45.4 Z" fill="#a66a0c" stroke="#2a0800" stroke-width="0.6"/>
<path d="M103.1,45.8 C104.9,44.3 107.8,44.2 110.1,44.4 C112.5,44.5 115.3,45.2 117.2,46.5 C119.1,47.8 120.3,51.0 121.5,52.0 C122.6,53.0 123.1,51.8 124.3,52.7 C125.5,53.7 128.3,55.9 128.5,57.7 C128.8,59.4 127.4,61.7 125.7,63.3 C124.1,65.0 121.0,66.4 118.6,67.6 C116.3,68.8 113.4,69.0 111.5,70.4 C109.7,71.8 109.0,74.2 107.3,76.1 C105.6,78.0 104.9,80.7 101.6,81.7 C98.3,82.8 90.7,82.8 87.5,82.4 C84.3,82.1 83.5,80.7 82.5,79.6 C81.6,78.5 81.0,77.8 81.8,76.1 C82.6,74.3 85.4,71.6 87.5,69.0 C89.6,66.4 92.7,63.1 94.6,60.5 C96.4,57.9 97.4,55.9 98.8,53.4 C100.2,51.0 101.2,47.3 103.1,45.8 Z" fill="#a66a0c" stroke="#2a0800" stroke-width="0.6"/>
<path d="M117.1,67.4 C117.1,66.1 120.0,65.2 121.8,63.6 C123.6,62.0 124.0,58.1 127.7,57.7 C131.4,57.3 141.0,60.3 144.2,61.5 C147.4,62.7 145.6,65.0 146.8,65.0 C148.0,65.0 148.8,62.2 151.3,61.5 C153.8,60.8 159.6,60.7 161.9,60.8 C164.3,60.8 165.6,60.5 165.5,61.9 C165.3,63.4 161.0,67.5 161.0,69.5 C161.0,71.5 164.3,72.8 165.5,74.2 C166.6,75.6 169.6,77.4 167.8,78.0 C166.0,78.6 158.0,78.4 154.8,78.0 C151.7,77.6 151.5,76.0 148.9,75.4 C146.4,74.8 141.7,75.0 139.5,74.2 C137.3,73.5 137.9,71.3 136.0,70.9 C134.0,70.6 130.1,72.0 127.7,72.1 C125.3,72.2 123.6,72.2 121.8,71.4 C120.0,70.6 117.1,68.7 117.1,67.4 Z" fill="#a66a0c" stroke="#2a0800" stroke-width="0.6"/>
<path d="M153.0,93.1 C154.2,91.6 156.7,90.9 159.4,90.9 C162.1,90.9 167.3,92.2 169.3,93.1 C171.3,93.9 171.6,94.7 171.4,95.9 C171.3,97.1 169.3,98.4 168.6,100.0 C167.9,101.6 168.3,104.5 167.2,105.7 C166.1,106.8 164.2,107.1 162.2,107.1 C160.2,107.1 156.8,106.8 155.2,105.7 C153.5,104.5 152.7,102.1 152.3,100.0 C152.0,97.9 151.9,94.6 153.0,93.1 Z" fill="#a66a0c" stroke="#2a0800" stroke-width="0.6"/>
<path d="M80.6,96.5 C81.1,95.0 82.0,94.9 84.2,94.8 C86.3,94.7 91.2,95.2 93.6,96.0 C96.0,96.7 97.3,97.9 98.3,99.5 C99.3,101.1 99.2,105.1 99.5,105.4 C99.8,105.7 100.2,100.9 100.2,101.4 C100.2,101.9 98.8,106.8 99.5,108.5 C100.2,110.1 101.8,110.4 104.5,111.3 C107.2,112.3 113.4,112.7 115.8,114.2 C118.2,115.6 118.3,117.2 118.6,119.8 C119.0,122.4 118.9,126.2 117.9,129.7 C117.0,133.3 115.0,138.5 113.0,141.1 C111.0,143.7 109.2,144.8 105.9,145.3 C102.6,145.8 96.4,145.3 93.1,143.9 C89.8,142.5 88.2,139.6 86.1,136.8 C83.9,134.0 81.8,129.7 80.4,126.9 C79.0,124.1 79.1,121.2 77.6,119.8 C76.0,118.4 72.4,119.8 71.2,118.4 C70.0,117.0 70.1,112.9 70.5,111.3 C70.8,109.8 71.4,109.7 73.3,109.2 C75.2,108.7 80.5,109.8 81.8,108.5 C83.1,107.2 81.2,102.1 81.1,101.4 C81.0,100.7 81.3,105.0 81.2,104.2 C81.1,103.4 80.1,98.1 80.6,96.5 Z" fill="#a66a0c" stroke="#2a0800" stroke-width="0.6"/>
<path d="M100.1,89.5 C101.1,87.7 103.7,86.2 105.4,84.2 C107.1,82.1 107.8,78.8 110.1,77.1 C112.5,75.3 116.0,74.0 119.6,73.5 C123.1,73.0 128.2,73.3 131.4,74.1 C134.5,74.9 137.0,76.2 138.4,78.3 C139.9,80.3 140.2,83.7 139.9,86.5 C139.5,89.4 138.3,93.0 136.1,95.4 C133.9,97.8 129.8,100.1 126.6,100.9 C123.5,101.7 120.1,100.3 117.2,100.1 C114.2,99.9 111.3,99.9 108.9,99.5 C106.6,99.1 104.6,98.5 103.0,97.7 C101.5,96.9 100.0,96.2 99.5,94.8 C99.0,93.4 99.1,91.2 100.1,89.5 Z" fill="#a66a0c" stroke="#2a0800" stroke-width="0.6"/>
<path d="M87.4,27.7 C87.7,26.2 88.2,25.1 90.1,24.7 C92.0,24.4 96.1,24.8 98.9,25.3 C101.8,25.8 105.4,26.8 107.2,27.7 C109.0,28.6 109.6,29.4 109.6,30.6 C109.6,31.9 108.6,34.2 107.2,35.4 C105.8,36.5 103.7,37.4 101.3,37.7 C98.9,38.0 95.2,37.8 93.0,37.1 C90.9,36.5 89.3,35.2 88.3,33.6 C87.4,32.0 87.1,29.2 87.4,27.7 Z" fill="#c49c54" stroke="#2a0800" stroke-width="0.6"/>
<path d="M93.1,66.2 C93.8,64.9 95.3,63.3 97.4,62.6 C99.5,61.9 103.5,61.4 105.9,61.9 C108.2,62.4 110.7,64.0 111.5,65.5 C112.4,66.9 111.8,69.1 110.8,70.4 C109.9,71.7 108.1,72.8 105.9,73.2 C103.6,73.7 99.5,73.7 97.4,73.2 C95.3,72.8 93.8,71.6 93.1,70.4 C92.4,69.2 92.4,67.5 93.1,66.2 Z" fill="#bf9240" stroke="#2a0800" stroke-width="0.6"/>
<path d="M83.2,114.2 C85.0,112.7 87.9,111.4 91.7,111.3 C95.5,111.2 102.3,112.0 105.9,113.5 C109.4,114.9 111.5,117.1 113.0,119.8 C114.4,122.5 114.9,126.7 114.4,129.7 C113.9,132.8 112.7,136.3 110.1,138.2 C107.5,140.1 102.1,141.3 98.8,141.1 C95.5,140.8 92.9,138.9 90.3,136.8 C87.7,134.7 84.8,131.2 83.2,128.3 C81.7,125.5 81.1,122.2 81.1,119.8 C81.1,117.5 81.5,115.6 83.2,114.2 Z" fill="#b27c12" stroke="#2a0800" stroke-width="0.6"/>
<path d="M85.4,117.0 C86.7,115.0 91.1,114.7 94.6,114.9 C98.0,115.0 103.2,115.9 105.9,117.7 C108.6,119.5 110.3,122.8 110.8,125.5 C111.4,128.2 111.0,132.0 109.4,134.0 C107.9,136.0 104.4,137.4 101.6,137.5 C98.9,137.6 95.6,136.5 93.1,134.7 C90.7,132.9 88.1,129.9 86.8,126.9 C85.5,124.0 84.1,119.0 85.4,117.0 Z" fill="#c49c54" stroke="#2a0800" stroke-width="0.6"/>
<path d="M86.8,120.5 C87.7,119.5 90.4,119.0 93.1,119.1 C95.9,119.2 100.7,119.9 103.1,121.2 C105.4,122.5 106.4,124.8 107.3,126.9 C108.2,129.0 109.9,132.4 108.7,134.0 C107.5,135.5 102.8,136.5 100.2,136.1 C97.6,135.8 95.3,133.6 93.1,131.9 C91.0,130.1 88.5,127.4 87.5,125.5 C86.4,123.6 85.8,121.6 86.8,120.5 Z" fill="#ecdcc6" stroke="#2a0800" stroke-width="0.6"/>
<path d="M107.8,83.0 C108.2,81.0 108.7,78.6 110.7,77.1 C112.7,75.6 116.2,74.5 119.6,74.1 C122.9,73.7 127.8,73.9 130.8,74.7 C133.8,75.5 136.1,76.9 137.5,78.8 C138.8,80.8 139.3,83.9 138.9,86.5 C138.5,89.2 137.2,92.6 135.1,94.8 C133.0,97.0 129.4,99.0 126.4,99.7 C123.4,100.4 119.8,99.8 117.2,98.9 C114.6,98.0 112.2,95.9 110.7,94.2 C109.2,92.5 108.5,90.7 108.0,88.9 C107.5,87.0 107.3,84.9 107.8,83.0 Z" fill="#b27c12" stroke="#2a0800" stroke-width="0.6"/>
<path d="M109.5,83.0 C109.9,81.4 110.5,79.6 112.2,78.5 C114.0,77.4 117.2,76.5 120.1,76.1 C123.1,75.8 127.6,76.0 130.2,76.6 C132.8,77.3 134.7,78.4 135.8,80.0 C136.9,81.7 137.2,84.4 136.8,86.5 C136.4,88.7 135.3,91.2 133.5,93.0 C131.7,94.8 128.6,96.8 125.9,97.4 C123.3,98.0 119.8,97.5 117.4,96.7 C115.1,95.9 113.3,94.1 112.0,92.7 C110.7,91.2 110.3,89.5 109.9,87.9 C109.5,86.3 109.1,84.6 109.5,83.0 Z" fill="#c49c54" stroke="#2a0800" stroke-width="0.6"/>
<path d="M111.3,83.2 C111.7,82.0 112.3,80.8 113.9,79.9 C115.5,79.0 118.1,78.3 120.7,78.0 C123.4,77.8 127.4,78.0 129.6,78.5 C131.8,79.0 133.2,79.9 134.1,81.2 C134.9,82.5 135.0,84.8 134.7,86.5 C134.3,88.2 133.4,89.9 131.8,91.2 C130.3,92.6 127.8,94.1 125.5,94.5 C123.1,95.0 119.8,94.6 117.8,94.0 C115.8,93.3 114.5,91.9 113.4,90.8 C112.4,89.6 111.9,88.5 111.5,87.2 C111.2,86.0 110.9,84.4 111.3,83.2 Z" fill="#dcc296" stroke="#2a0800" stroke-width="0.6"/>
<path d="M112.7,83.6 C113.1,82.7 114.0,81.8 115.4,81.2 C116.9,80.6 119.1,80.0 121.3,79.9 C123.6,79.8 127.2,80.0 129.0,80.4 C130.8,80.8 131.7,81.4 132.3,82.4 C132.9,83.4 132.9,85.3 132.5,86.5 C132.2,87.8 131.5,88.9 130.2,89.8 C128.9,90.7 126.8,91.7 124.9,91.9 C122.9,92.2 120.0,92.0 118.4,91.5 C116.7,91.0 115.7,89.7 114.8,88.9 C113.9,88.1 113.3,87.4 112.9,86.5 C112.6,85.6 112.3,84.5 112.7,83.6 Z" fill="#ecdcc6" stroke="#2a0800" stroke-width="0.6"/>
<path d="M113.9,83.9 C114.1,83.0 115.3,82.3 116.6,81.8 C117.9,81.3 120.0,81.2 121.9,81.2 C123.9,81.2 127.0,81.3 128.4,81.8 C129.8,82.3 130.2,83.0 130.4,83.9 C130.6,84.9 130.3,86.5 129.7,87.5 C129.1,88.4 128.3,89.2 126.6,89.5 C124.9,89.7 121.4,89.5 119.6,89.1 C117.7,88.7 116.4,88.0 115.4,87.1 C114.5,86.2 113.7,84.8 113.9,83.9 Z" fill="#fbf3f6" stroke="#2a0800" stroke-width="0.6"/>
<path d="M91.5,89.1 C92.7,88.2 98.4,87.4 99.5,87.9 C100.6,88.5 99.0,91.4 98.3,92.4 C97.6,93.4 96.4,93.9 95.4,94.1 C94.3,94.3 92.6,94.4 91.9,93.6 C91.3,92.8 90.2,90.1 91.5,89.1 Z" fill="#7a1e04" stroke="#2a0800" stroke-width="0.6"/>
<path d="M74.6,158.2 C74.8,157.4 73.7,155.9 76.3,155.6 C78.9,155.3 87.3,156.0 90.0,156.6 C92.7,157.2 92.0,158.2 92.2,159.2 C92.4,160.2 93.4,161.9 91.0,162.5 C88.6,163.1 80.7,162.8 78.0,162.5 C75.3,162.2 75.5,161.1 74.9,160.4 C74.3,159.7 74.4,159.0 74.6,158.2 Z" fill="#ba8a30" stroke="#2a0800" stroke-width="0.6"/>
</g>
<rect x="45.8" y="4.5" width="190.89999999999998" height="191.0" fill="none" stroke="#140000" stroke-width="1.1"/>
<line x1="45.3" y1="4.7" x2="237.2" y2="4.7" stroke="#100000" stroke-width="1.7"/>
<path d="M42,2.4 H38.3 V272" fill="none" stroke="#858585" stroke-width="1.3"/>
<line x1="38.3" y1="253.3" x2="40.7" y2="253.3" stroke="#555" stroke-width="1"/>
<line x1="38.3" y1="234.0" x2="42.3" y2="234.0" stroke="#555" stroke-width="1"/>
<line x1="38.3" y1="214.7" x2="40.7" y2="214.7" stroke="#555" stroke-width="1"/>
<line x1="38.3" y1="195.4" x2="42.3" y2="195.4" stroke="#555" stroke-width="1"/>
<line x1="38.3" y1="176.1" x2="40.7" y2="176.1" stroke="#555" stroke-width="1"/>
<line x1="38.3" y1="156.7" x2="42.3" y2="156.7" stroke="#555" stroke-width="1"/>
<line x1="38.3" y1="137.4" x2="40.7" y2="137.4" stroke="#555" stroke-width="1"/>
<line x1="38.3" y1="118.1" x2="42.3" y2="118.1" stroke="#555" stroke-width="1"/>
<line x1="38.3" y1="98.8" x2="40.7" y2="98.8" stroke="#555" stroke-width="1"/>
<line x1="38.3" y1="79.5" x2="42.3" y2="79.5" stroke="#555" stroke-width="1"/>
<line x1="38.3" y1="60.2" x2="40.7" y2="60.2" stroke="#555" stroke-width="1"/>
<line x1="38.3" y1="40.9" x2="42.3" y2="40.9" stroke="#555" stroke-width="1"/>
<line x1="38.3" y1="21.6" x2="40.7" y2="21.6" stroke="#555" stroke-width="1"/>
<text transform="translate(34.6,239.6) scale(0.955,1)" font-family='"Liberation Sans", Arial, sans-serif' font-size="16.2" text-anchor="end" fill="#111">200</text>
<text transform="translate(34.6,201.0) scale(0.955,1)" font-family='"Liberation Sans", Arial, sans-serif' font-size="16.2" text-anchor="end" fill="#111">400</text>
<text transform="translate(34.6,162.3) scale(0.955,1)" font-family='"Liberation Sans", Arial, sans-serif' font-size="16.2" text-anchor="end" fill="#111">600</text>
<text transform="translate(34.6,123.7) scale(0.955,1)" font-family='"Liberation Sans", Arial, sans-serif' font-size="16.2" text-anchor="end" fill="#111">800</text>
<text transform="translate(34.6,85.1) scale(0.955,1)" font-family='"Liberation Sans", Arial, sans-serif' font-size="16.2" text-anchor="end" fill="#111">1000</text>
<text transform="translate(34.6,46.5) scale(0.955,1)" font-family='"Liberation Sans", Arial, sans-serif' font-size="16.2" text-anchor="end" fill="#111">1200</text>
<text transform="translate(39.1,289) scale(0.955,1)" font-family='"Liberation Sans", Arial, sans-serif' font-size="16.2" text-anchor="middle" fill="#111">0</text>
<text transform="translate(91.1,289) scale(0.955,1)" font-family='"Liberation Sans", Arial, sans-serif' font-size="16.2" text-anchor="middle" fill="#111">20</text>
<text transform="translate(142.9,289) scale(0.955,1)" font-family='"Liberation Sans", Arial, sans-serif' font-size="16.2" text-anchor="middle" fill="#111">40</text>
<text transform="translate(198.8,289) scale(0.955,1)" font-family='"Liberation Sans", Arial, sans-serif' font-size="16.2" text-anchor="middle" fill="#111">60</text>
<text transform="translate(254.9,289) scale(0.955,1)" font-family='"Liberation Sans", Arial, sans-serif' font-size="16.2" text-anchor="middle" fill="#111">80</text>
<text x="299.9" y="292.6" font-family='"Liberation Serif", "Times New Roman", serif' font-size="21.5" text-anchor="middle" fill="#111">ζ</text>
<text x="19" y="13.5" font-family='"Liberation Serif", "Times New Roman", serif' font-size="19" text-anchor="middle" fill="#111">η</text>
<path d="M38.3,271.6 C43.6,271.6 61.4,271.6 70.0,271.5 C78.6,271.4 83.8,271.4 90.0,271.2 C96.2,271.0 101.7,270.8 107.5,270.5 C113.3,270.2 119.2,270.0 125.0,269.6 C130.8,269.2 136.7,268.8 142.5,268.2 C148.3,267.6 154.2,266.9 160.0,265.9 C165.8,264.9 171.8,264.0 177.6,262.4 C183.4,260.8 189.8,258.6 195.0,256.3 C200.2,254.0 205.5,250.4 209.0,248.4 C212.5,246.4 213.7,245.8 216.0,244.4 C218.3,242.9 220.7,241.4 223.0,239.7 C225.3,237.9 227.7,236.1 230.0,234.1 C232.3,232.1 234.7,230.0 237.0,227.6 C239.3,225.2 241.7,222.7 244.0,220.0 C246.3,217.2 248.7,214.2 251.0,211.0 C253.3,207.8 255.7,204.3 258.0,200.5 C260.3,196.7 262.7,192.6 265.0,188.1 C267.3,183.7 269.7,178.9 272.0,173.7 C274.3,168.4 276.7,162.8 279.0,156.7 C281.3,150.5 283.7,143.9 286.0,136.7 C288.3,129.5 290.7,121.8 293.0,113.3 C295.3,104.8 297.7,95.8 300.0,85.9 C302.3,75.9 305.6,60.0 307.0,53.6 C308.4,47.2 308.0,48.5 308.2,47.5" fill="none" stroke="#ee1111" stroke-width="1.9" stroke-linejoin="round"/>
<text transform="translate(151.8,223.7) scale(0.955,1)" font-family='"Liberation Sans", Arial, sans-serif' font-size="16.2" text-anchor="middle" fill="#111">exponent</text>
<line x1="190" y1="220.8" x2="230" y2="227.7" stroke="#ee1111" stroke-width="1.3"/>
<path d="M237.2,229 L227.0,230.9 L228.3,223.5 Z" fill="#ee1111"/>
<text x="179" y="333.8" font-family='"Liberation Serif", "Times New Roman", serif' font-size="19" text-anchor="middle" fill="#111">(a)</text>
<path d="M358.4,2.6 V272.6 H628.8 V2.6" fill="none" stroke="#5c5c5c" stroke-width="1.3"/>
<line x1="624.8" y1="3.0" x2="628.8" y2="3.0" stroke="#555" stroke-width="1"/>
<line x1="358.4" y1="229.2" x2="360.59999999999997" y2="229.2" stroke="#555" stroke-width="1"/>
<line x1="358.4" y1="185.9" x2="362.79999999999995" y2="185.9" stroke="#555" stroke-width="1"/>
<line x1="358.4" y1="142.5" x2="360.59999999999997" y2="142.5" stroke="#555" stroke-width="1"/>
<line x1="358.4" y1="99.1" x2="362.79999999999995" y2="99.1" stroke="#555" stroke-width="1"/>
<line x1="358.4" y1="55.7" x2="360.59999999999997" y2="55.7" stroke="#555" stroke-width="1"/>
<line x1="358.4" y1="12.4" x2="362.79999999999995" y2="12.4" stroke="#555" stroke-width="1"/>
<text transform="translate(354.3,104.7) scale(0.955,1)" font-family='"Liberation Sans", Arial, sans-serif' font-size="16.2" text-anchor="end" fill="#111">2.0</text>
<text transform="translate(354.3,191.5) scale(0.955,1)" font-family='"Liberation Sans", Arial, sans-serif' font-size="16.2" text-anchor="end" fill="#111">1.5</text>
<text transform="translate(351.6,280.6) scale(0.955,1)" font-family='"Liberation Sans", Arial, sans-serif' font-size="16.2" text-anchor="end" fill="#111">1.0</text>
<line x1="380.9" y1="272.6" x2="380.9" y2="270.40000000000003" stroke="#555" stroke-width="1"/>
<line x1="408.4" y1="272.6" x2="408.4" y2="268.6" stroke="#555" stroke-width="1"/>
<line x1="435.9" y1="272.6" x2="435.9" y2="270.40000000000003" stroke="#555" stroke-width="1"/>
<line x1="463.4" y1="272.6" x2="463.4" y2="268.6" stroke="#555" stroke-width="1"/>
<line x1="490.9" y1="272.6" x2="490.9" y2="270.40000000000003" stroke="#555" stroke-width="1"/>
<line x1="518.4" y1="272.6" x2="518.4" y2="268.6" stroke="#555" stroke-width="1"/>
<line x1="545.9" y1="272.6" x2="545.9" y2="270.40000000000003" stroke="#555" stroke-width="1"/>
<line x1="573.4" y1="272.6" x2="573.4" y2="268.6" stroke="#555" stroke-width="1"/>
<line x1="600.9" y1="272.6" x2="600.9" y2="270.40000000000003" stroke="#555" stroke-width="1"/>
<text transform="translate(358.8,288.1) scale(0.955,1)" font-family='"Liberation Sans", Arial, sans-serif' font-size="16.2" text-anchor="middle" fill="#111">2</text>
<text transform="translate(410.3,288.1) scale(0.955,1)" font-family='"Liberation Sans", Arial, sans-serif' font-size="16.2" text-anchor="middle" fill="#111">20</text>
<text transform="translate(462.6,288.1) scale(0.955,1)" font-family='"Liberation Sans", Arial, sans-serif' font-size="16.2" text-anchor="middle" fill="#111">40</text>
<text transform="translate(518.8,288.1) scale(0.955,1)" font-family='"Liberation Sans", Arial, sans-serif' font-size="16.2" text-anchor="middle" fill="#111">60</text>
<text transform="translate(574.8,288.1) scale(0.955,1)" font-family='"Liberation Sans", Arial, sans-serif' font-size="16.2" text-anchor="middle" fill="#111">80</text>
<text transform="translate(357.3,303.9) scale(0.955,1)" font-family='"Liberation Sans", Arial, sans-serif' font-size="16.2" text-anchor="middle" fill="#111">5.00</text>
<text transform="translate(408.8,303.9) scale(0.955,1)" font-family='"Liberation Sans", Arial, sans-serif' font-size="16.2" text-anchor="middle" fill="#111">0.56</text>
<text transform="translate(460.8,303.9) scale(0.955,1)" font-family='"Liberation Sans", Arial, sans-serif' font-size="16.2" text-anchor="middle" fill="#111">0.25</text>
<text transform="translate(517.0,303.9) scale(0.955,1)" font-family='"Liberation Sans", Arial, sans-serif' font-size="16.2" text-anchor="middle" fill="#111">0.17</text>
<text transform="translate(573.3,303.9) scale(0.955,1)" font-family='"Liberation Sans", Arial, sans-serif' font-size="16.2" text-anchor="middle" fill="#111">0.13</text>
<text x="616.3" y="289.6" font-family='"Liberation Serif", "Times New Roman", serif' font-size="21" text-anchor="middle" fill="#111">ζ</text>
<text y="303.9" font-family='"Liberation Serif", "Times New Roman", serif' font-size="18.7" fill="#111"><tspan x="602.3">δ</tspan><tspan x="612">,</tspan><tspan x="623">μ</tspan><tspan x="632.8" font-style="italic">m</tspan></text>
<line x1="624.4" y1="55.5" x2="628.8" y2="55.5" stroke="#555" stroke-width="1"/>
<text transform="translate(631.8,59.3) scale(0.87,1)" font-family='"Liberation Sans", Arial, sans-serif' font-size="16.2" fill="#111">10<tspan font-size="10" dy="-6.5">4</tspan></text>
<line x1="624.4" y1="157.9" x2="628.8" y2="157.9" stroke="#555" stroke-width="1"/>
<text transform="translate(631.8,162.6) scale(0.87,1)" font-family='"Liberation Sans", Arial, sans-serif' font-size="16.2" fill="#111">10<tspan font-size="10" dy="-6.5">3</tspan></text>
<line x1="624.4" y1="260.3" x2="628.8" y2="260.3" stroke="#555" stroke-width="1"/>
<text transform="translate(631.8,266.0) scale(0.87,1)" font-family='"Liberation Sans", Arial, sans-serif' font-size="16.2" fill="#111">10<tspan font-size="10" dy="-6.5">2</tspan></text>
<line x1="626.4" y1="24.7" x2="628.8" y2="24.7" stroke="#555" stroke-width="0.9"/>
<line x1="626.4" y1="6.6" x2="628.8" y2="6.6" stroke="#555" stroke-width="0.9"/>
<line x1="626.4" y1="127.1" x2="628.8" y2="127.1" stroke="#555" stroke-width="0.9"/>
<line x1="626.4" y1="109.0" x2="628.8" y2="109.0" stroke="#555" stroke-width="0.9"/>
<line x1="626.4" y1="96.2" x2="628.8" y2="96.2" stroke="#555" stroke-width="0.9"/>
<line x1="626.4" y1="86.3" x2="628.8" y2="86.3" stroke="#555" stroke-width="0.9"/>
<line x1="626.4" y1="78.2" x2="628.8" y2="78.2" stroke="#555" stroke-width="0.9"/>
<line x1="626.4" y1="71.4" x2="628.8" y2="71.4" stroke="#555" stroke-width="0.9"/>
<line x1="626.4" y1="65.4" x2="628.8" y2="65.4" stroke="#555" stroke-width="0.9"/>
<line x1="626.4" y1="60.2" x2="628.8" y2="60.2" stroke="#555" stroke-width="0.9"/>
<line x1="626.4" y1="229.5" x2="628.8" y2="229.5" stroke="#555" stroke-width="0.9"/>
<line x1="626.4" y1="211.4" x2="628.8" y2="211.4" stroke="#555" stroke-width="0.9"/>
<line x1="626.4" y1="198.6" x2="628.8" y2="198.6" stroke="#555" stroke-width="0.9"/>
<line x1="626.4" y1="188.7" x2="628.8" y2="188.7" stroke="#555" stroke-width="0.9"/>
<line x1="626.4" y1="180.6" x2="628.8" y2="180.6" stroke="#555" stroke-width="0.9"/>
<line x1="626.4" y1="173.8" x2="628.8" y2="173.8" stroke="#555" stroke-width="0.9"/>
<line x1="626.4" y1="167.8" x2="628.8" y2="167.8" stroke="#555" stroke-width="0.9"/>
<line x1="626.4" y1="162.6" x2="628.8" y2="162.6" stroke="#555" stroke-width="0.9"/>
<line x1="626.4" y1="270.2" x2="628.8" y2="270.2" stroke="#555" stroke-width="0.9"/>
<line x1="626.4" y1="265.0" x2="628.8" y2="265.0" stroke="#555" stroke-width="0.9"/>
<text x="333.3" y="18.6" font-family='"Liberation Serif", "Times New Roman", serif' font-size="18.7" font-style="italic" fill="#111">D<tspan font-size="9.5" dy="4.2">f</tspan></text>
<text y="14.6" font-family='"Liberation Serif", "Times New Roman", serif' font-size="18.7" fill="#111"><tspan x="636.3" font-style="italic">l</tspan><tspan x="640.3" font-size="9.5" dy="4.2" font-style="italic">f</tspan><tspan x="646.6" dy="-4.2">,</tspan><tspan x="657.2">μ</tspan><tspan x="667" font-style="italic">m</tspan></text>
<line x1="358.4" y1="99.3" x2="467.5" y2="99.3" stroke="#444" stroke-width="0.8" stroke-dasharray="2.8,2.2"/>
<line x1="441.9" y1="80.9" x2="441.9" y2="278" stroke="#444" stroke-width="0.8" stroke-dasharray="2.8,2.2"/>
<line x1="430.4" y1="148.7" x2="628.8" y2="148.7" stroke="#444" stroke-width="0.8" stroke-dasharray="2.8,2.2"/>
<path d="M358.4,272.6 C359.6,270.3 363.0,263.6 365.4,258.6 C367.8,253.6 370.4,247.5 372.5,242.7 C374.6,237.9 376.0,234.0 377.8,230.0 C379.6,226.0 381.0,222.5 383.1,218.7 C385.2,214.9 387.8,210.6 390.2,207.2 C392.6,203.8 394.6,201.4 397.3,198.3 C400.0,195.2 403.5,191.8 406.1,188.6 C408.8,185.3 411.1,181.9 413.2,178.8 C415.3,175.7 416.5,172.9 418.5,170.0 C420.5,167.1 422.4,164.2 425.0,161.6 C427.6,159.0 431.0,156.7 433.8,154.5 C436.6,152.3 439.0,150.7 441.9,148.7 C444.8,146.7 448.2,144.4 451.3,142.5 C454.4,140.6 457.5,139.2 460.2,137.4 C462.9,135.6 464.6,134.5 467.3,131.9 C470.0,129.3 472.9,125.4 476.1,122.1 C479.3,118.8 483.2,114.8 486.7,112.0 C490.2,109.2 493.9,107.2 497.3,105.0 C500.7,102.8 503.3,101.0 507.0,98.6 C510.7,96.2 515.2,92.9 519.4,90.4 C523.6,87.9 527.0,86.8 532.0,83.4 C537.0,80.0 543.1,75.0 549.1,70.2 C555.1,65.4 562.1,59.5 568.0,54.8 C573.9,50.1 580.3,45.3 584.5,42.0 C588.7,38.7 589.8,37.5 593.3,34.8 C596.8,32.1 602.5,28.4 605.7,25.7 C609.0,23.0 610.7,21.1 612.8,18.6 C614.9,16.1 616.5,13.2 618.1,10.6 C619.7,7.9 621.8,4.0 622.5,2.7" fill="none" stroke="#ee1111" stroke-width="1.6" stroke-linecap="round"/>
<path d="M358.4,272.6 C359.0,269.2 360.8,259.1 362.0,252.0 C363.2,244.9 364.1,237.8 365.4,230.0 C366.7,222.2 368.5,212.8 369.8,205.4 C371.1,198.1 372.1,191.8 373.4,185.9 C374.7,180.0 376.2,174.7 377.4,170.0 C378.6,165.3 379.6,160.5 380.5,157.5 C381.4,154.5 381.6,154.0 382.5,151.9 C383.4,149.8 384.5,147.2 386.0,144.8 C387.5,142.4 389.2,139.9 391.3,137.7 C393.4,135.5 396.0,133.4 398.4,131.5 C400.8,129.6 403.4,128.0 405.5,126.2 C407.6,124.4 409.4,122.4 410.8,120.5 C412.2,118.6 412.8,116.7 414.0,114.8 C415.2,112.9 416.5,110.8 418.0,109.2 C419.5,107.6 421.3,106.2 423.0,105.1 C424.7,104.0 426.2,103.3 428.3,102.6 C430.4,101.9 433.1,101.3 435.4,100.7 C437.7,100.1 439.2,99.7 441.9,98.9 C444.5,98.1 448.2,96.7 451.3,95.9 C454.4,95.1 457.8,94.7 460.2,94.0 C462.6,93.3 463.7,92.8 465.5,91.5 C467.3,90.2 468.7,88.3 470.8,86.5 C472.9,84.7 475.5,82.1 477.9,80.4 C480.3,78.7 483.0,77.3 485.0,76.3 C487.0,75.3 487.3,75.3 490.0,74.4 C492.7,73.5 497.1,72.3 501.0,71.0 C504.9,69.7 509.6,68.0 513.6,66.6 C517.6,65.2 521.1,64.0 525.0,62.6 C528.9,61.2 533.9,59.3 537.2,57.9 C540.5,56.5 540.8,56.2 544.8,54.1 C548.8,52.0 556.7,47.6 560.9,45.4 C565.1,43.1 566.9,42.2 570.0,40.6 C573.1,39.0 575.9,37.8 579.8,35.7 C583.7,33.7 589.0,30.6 593.3,28.3 C597.6,26.0 602.5,24.2 605.7,22.1 C609.0,20.0 610.7,18.1 612.8,15.9 C614.9,13.7 616.5,11.0 618.1,8.8 C619.7,6.6 621.8,3.7 622.5,2.7" fill="none" stroke="#111" stroke-width="1.75" stroke-linecap="round"/>
<circle cx="441.9" cy="98.9" r="2.2" fill="#000"/>
<circle cx="441.9" cy="148.7" r="2.3" fill="#ee1111"/>
<line x1="374" y1="88.7" x2="408" y2="88.7" stroke="#2222a8" stroke-width="1.7" stroke-dasharray="5.5,2.5"/>
<path d="M416.8,88.7 L407.3,85 L407.3,92.4 Z" fill="#2222a8"/>
<line x1="434.5" y1="108" x2="434.5" y2="127" stroke="#2222a8" stroke-width="1.7" stroke-dasharray="5.5,2.5"/>
<path d="M434.5,136.5 L430.9,126.3 L438.1,126.3 Z" fill="#2222a8"/>
<line x1="444.5" y1="148.7" x2="490.5" y2="148.7" stroke="#2222a8" stroke-width="1.7" stroke-dasharray="5.5,2.5"/>
<path d="M499,148.7 L489.8,145 L489.8,152.4 Z" fill="#2222a8"/>
<text transform="translate(511.6,45.5) scale(0.955,1)" font-family='"Liberation Sans", Arial, sans-serif' font-size="16.2" text-anchor="middle" fill="#111">1</text>
<line x1="508" y1="54.1" x2="544.8" y2="54.1" stroke="#111" stroke-width="1.2"/>
<path d="M499.8,54.1 L509,50.7 L509,57.5 Z" fill="#111"/>
<text transform="translate(561.3,104.2) scale(0.955,1)" font-family='"Liberation Sans", Arial, sans-serif' font-size="16.2" text-anchor="middle" fill="#ee1111">2</text>
<line x1="532" y1="84.3" x2="574" y2="84.3" stroke="#ee1111" stroke-width="1.2"/>
<path d="M582.3,84.3 L573,80.9 L573,87.7 Z" fill="#ee1111"/>
<text x="501.5" y="334" font-family='"Liberation Serif", "Times New Roman", serif' font-size="19" text-anchor="middle" fill="#111">(b)</text>
</svg></body></html>
